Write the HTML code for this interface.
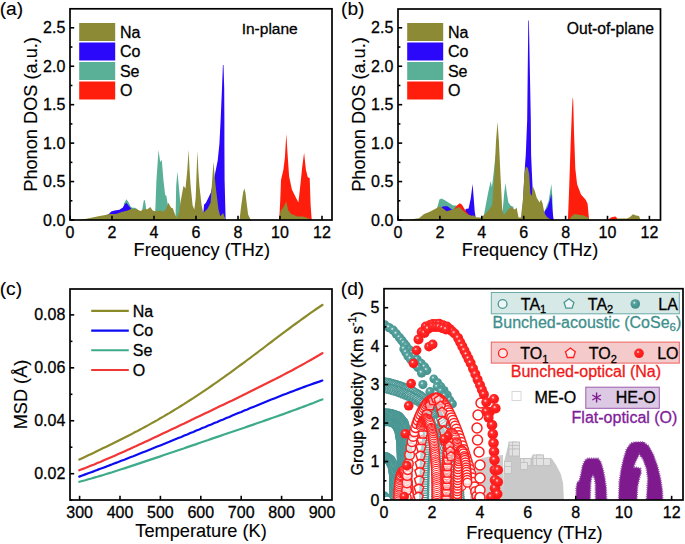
<!DOCTYPE html>
<html><head><meta charset="utf-8"><style>html,body{margin:0;padding:0;background:#fff;}svg{display:block;}text{font-family:"Liberation Sans",sans-serif;paint-order:stroke;stroke:currentColor;stroke-width:0.3px;}text[font-size="18.2"],text[font-size="19.2"]{stroke-width:0.12px;}</style></head>
<body><svg width="685" height="544" viewBox="0 0 685 544" font-family="Liberation Sans, sans-serif">
<rect width="685" height="544" fill="#fff"/>
<polygon points="122.0,220.0 124.0,203.4 126.4,199.3 128.1,201.6 130.5,206.3 132.2,207.7 135.1,207.7 137.5,209.2 139.0,220.0" fill="#59b096" />
<polygon points="141.5,220.0 142.2,209.8 143.9,199.9 145.0,200.4 146.2,209.2 147.0,220.0" fill="#59b096" />
<polygon points="154.8,220.0 155.5,205.0 156.4,180.8 158.5,150.0 160.2,162.1 161.8,160.1 163.5,180.8 165.2,195.1 166.4,196.0 167.8,204.4 169.0,220.0" fill="#59b096" />
<polygon points="175.5,220.0 176.2,185.8 177.4,171.5 179.1,189.2 180.5,204.4 181.5,220.0" fill="#59b096" />
<polygon points="104.0,220.0 105.0,216.0 108.9,214.1 111.2,211.5 114.7,210.6 119.4,209.8 122.9,207.4 124.6,204.5 126.4,202.8 128.7,205.7 131.1,208.6 133.0,212.0 135.0,220.0" fill="#2b08fa" />
<polygon points="202.0,220.0 203.3,212.9 204.1,204.4 205.8,203.1 208.4,197.7 210.9,192.6 214.3,177.4 217.7,160.5 219.4,144.0 220.6,121.0 222.0,88.0 222.9,65.0 223.5,65.0 224.2,88.0 224.4,121.0 224.4,144.0 224.6,180.0 225.6,219.0 226.0,220.0" fill="#2b08fa" />
<polygon points="279.0,220.0 279.3,218.4 280.3,198.8 281.0,180.0 283.4,169.7 284.9,157.5 286.3,134.1 287.8,157.5 289.1,176.3 291.9,189.4 295.6,196.9 298.4,202.5 300.3,185.6 302.2,166.9 304.1,152.8 305.9,169.7 307.8,177.2 309.7,178.1 310.6,204.4 311.6,218.4 312.0,220.0" fill="#ff1e0c" />
<polygon points="80.0,220.0 82.0,219.5 87.8,218.5 92.5,217.4 98.4,216.2 105.4,215.0 110.0,213.9 115.9,213.9 121.7,212.1 127.6,210.4 132.2,208.6 136.9,209.2 140.4,211.0 143.9,209.2 147.4,209.2 150.3,207.1 152.7,210.4 155.1,211.2 160.2,210.4 163.5,211.6 166.1,208.7 168.3,202.8 171.2,207.8 172.8,208.2 175.0,214.6 176.6,218.0 178.8,212.9 181.3,197.7 183.5,185.8 185.5,188.4 187.3,170.0 188.6,150.0 189.6,170.0 190.6,185.8 192.6,205.3 194.3,209.5 195.7,197.7 196.5,175.0 197.4,150.6 198.4,172.0 199.4,185.8 201.6,205.3 203.3,212.9 207.5,208.7 210.6,202.8 212.2,180.0 213.5,161.8 214.8,178.0 216.0,189.2 218.5,209.5 220.2,216.3 223.1,212.9 225.3,219.0 226.0,220.0" fill="#8c8a34" />
<polygon points="239.5,220.0 241.4,204.4 243.2,192.0 244.4,188.4 245.5,193.0 246.4,201.0 248.1,214.6 249.8,218.0 251.0,220.0" fill="#8c8a34" />
<polygon points="279.3,220.0 280.6,211.0 283.4,207.2 286.3,201.6 288.1,210.0 290.9,213.8 297.5,216.6 303.1,216.6 308.8,218.4 311.0,220.0" fill="#8c8a34" />
<rect x="70.00" y="8.80" width="262.00" height="211.20" fill="none" stroke="#000" stroke-width="1.7"/>
<line x1="70.00" y1="220.00" x2="70.00" y2="215.80" stroke="#000" stroke-width="1.6"/>
<text x="70.00" y="237.90" font-size="16" text-anchor="middle" fill="#000" color="#000" >0</text>
<line x1="112.00" y1="220.00" x2="112.00" y2="215.80" stroke="#000" stroke-width="1.6"/>
<text x="112.00" y="237.90" font-size="16" text-anchor="middle" fill="#000" color="#000" >2</text>
<line x1="154.00" y1="220.00" x2="154.00" y2="215.80" stroke="#000" stroke-width="1.6"/>
<text x="154.00" y="237.90" font-size="16" text-anchor="middle" fill="#000" color="#000" >4</text>
<line x1="196.00" y1="220.00" x2="196.00" y2="215.80" stroke="#000" stroke-width="1.6"/>
<text x="196.00" y="237.90" font-size="16" text-anchor="middle" fill="#000" color="#000" >6</text>
<line x1="238.00" y1="220.00" x2="238.00" y2="215.80" stroke="#000" stroke-width="1.6"/>
<text x="238.00" y="237.90" font-size="16" text-anchor="middle" fill="#000" color="#000" >8</text>
<line x1="280.00" y1="220.00" x2="280.00" y2="215.80" stroke="#000" stroke-width="1.6"/>
<text x="280.00" y="237.90" font-size="16" text-anchor="middle" fill="#000" color="#000" >10</text>
<line x1="322.00" y1="220.00" x2="322.00" y2="215.80" stroke="#000" stroke-width="1.6"/>
<text x="322.00" y="237.90" font-size="16" text-anchor="middle" fill="#000" color="#000" >12</text>
<line x1="70.00" y1="220.00" x2="74.20" y2="220.00" stroke="#000" stroke-width="1.6"/>
<text x="65.30" y="225.50" font-size="16" text-anchor="end" fill="#000" color="#000" >0.0</text>
<line x1="70.00" y1="200.78" x2="72.40" y2="200.78" stroke="#000" stroke-width="1.6"/>
<line x1="70.00" y1="181.56" x2="74.20" y2="181.56" stroke="#000" stroke-width="1.6"/>
<text x="65.30" y="187.06" font-size="16" text-anchor="end" fill="#000" color="#000" >0.5</text>
<line x1="70.00" y1="162.34" x2="72.40" y2="162.34" stroke="#000" stroke-width="1.6"/>
<line x1="70.00" y1="143.12" x2="74.20" y2="143.12" stroke="#000" stroke-width="1.6"/>
<text x="65.30" y="148.62" font-size="16" text-anchor="end" fill="#000" color="#000" >1.0</text>
<line x1="70.00" y1="123.90" x2="72.40" y2="123.90" stroke="#000" stroke-width="1.6"/>
<line x1="70.00" y1="104.68" x2="74.20" y2="104.68" stroke="#000" stroke-width="1.6"/>
<text x="65.30" y="110.18" font-size="16" text-anchor="end" fill="#000" color="#000" >1.5</text>
<line x1="70.00" y1="85.46" x2="72.40" y2="85.46" stroke="#000" stroke-width="1.6"/>
<line x1="70.00" y1="66.24" x2="74.20" y2="66.24" stroke="#000" stroke-width="1.6"/>
<text x="65.30" y="71.74" font-size="16" text-anchor="end" fill="#000" color="#000" >2.0</text>
<line x1="70.00" y1="47.02" x2="72.40" y2="47.02" stroke="#000" stroke-width="1.6"/>
<line x1="70.00" y1="27.80" x2="74.20" y2="27.80" stroke="#000" stroke-width="1.6"/>
<text x="65.30" y="33.30" font-size="16" text-anchor="end" fill="#000" color="#000" >2.5</text>
<text x="201.80" y="255.80" font-size="18.2" text-anchor="middle" fill="#000" color="#000" >Frequency (THz)</text>
<text transform="translate(37.30,114.40) rotate(-90)" font-size="18.2" text-anchor="middle" fill="#000">Phonon DOS (a.u.)</text>
<text x="-0.30" y="14.60" font-size="19.2" text-anchor="start" fill="#000" color="#000" >(a)</text>
<rect x="79.2" y="23.0" width="36" height="18" fill="#8c8a34"/>
<text x="119.90" y="37.60" font-size="16" text-anchor="start" fill="#000" color="#000" >Na</text>
<rect x="79.2" y="42.5" width="36" height="18" fill="#2b08fa"/>
<text x="119.90" y="57.10" font-size="16" text-anchor="start" fill="#000" color="#000" >Co</text>
<rect x="79.2" y="62.0" width="36" height="18" fill="#59b096"/>
<text x="119.90" y="76.60" font-size="16" text-anchor="start" fill="#000" color="#000" >Se</text>
<rect x="79.2" y="81.5" width="36" height="18" fill="#ff1e0c"/>
<text x="119.90" y="96.10" font-size="16" text-anchor="start" fill="#000" color="#000" >O</text>
<text x="241.70" y="33.90" font-size="15.5" text-anchor="start" fill="#000" color="#000" >In-plane</text>
<polygon points="435.0,220.0 437.2,207.7 439.4,199.6 441.6,198.5 445.3,200.4 449.6,203.3 453.3,205.5 456.2,205.5 458.0,208.0 460.0,220.0" fill="#59b096" />
<polygon points="483.0,220.0 485.1,208.8 488.2,192.3 490.7,181.0 491.9,187.2 494.0,169.7 495.0,160.0 496.5,150.0 497.0,220.0" fill="#59b096" />
<polygon points="502.0,220.0 503.0,206.7 504.3,192.3 505.5,183.0 506.7,192.3 508.4,202.6 510.9,205.7 513.3,206.7 515.0,220.0" fill="#59b096" />
<polygon points="543.0,220.0 544.5,211.5 548.5,201.6 551.4,183.9 552.4,197.7 553.0,220.0" fill="#59b096" />
<polygon points="440.0,220.0 441.6,206.9 443.8,206.2 447.4,206.2 450.4,208.4 452.6,209.9 454.7,209.1 457.0,220.0" fill="#2b08fa" />
<polygon points="463.0,220.0 465.7,209.1 468.6,208.4 470.8,198.2 472.6,183.9 473.7,198.2 474.7,211.3 475.6,217.2 476.0,220.0" fill="#2b08fa" />
<polygon points="522.0,220.0 524.8,168.1 525.8,154.4 527.2,119.5 528.3,20.5 528.9,20.5 530.8,119.5 531.1,154.4 532.3,182.0 532.7,189.8 534.0,220.0" fill="#2b08fa" />
<polygon points="544.0,220.0 544.5,211.5 547.5,207.5 550.0,199.6 551.4,193.7 552.4,209.5 553.4,218.3 554.0,220.0" fill="#2b08fa" />
<polygon points="453.0,220.0 454.0,209.1 456.9,205.5 459.9,203.3 462.0,204.7 464.2,208.4 466.4,212.0 468.6,214.2 470.8,215.7 472.0,220.0" fill="#ff1e0c" />
<polygon points="567.5,220.0 568.0,218.0 569.3,184.2 570.6,145.1 571.9,111.3 572.7,96.9 573.2,100.0 574.0,132.1 575.3,168.5 577.1,184.2 581.0,194.6 585.7,199.8 587.6,203.7 588.9,218.0 589.2,220.0" fill="#ff1e0c" />
<polygon points="608.5,220.0 610.0,218.0 612.5,217.0 615.5,216.6 617.0,218.0 617.5,220.0" fill="#ff1e0c" />
<polygon points="409.0,220.0 411.7,219.3 419.0,218.3 424.1,213.9 429.2,212.0 435.0,209.1 440.1,206.2 443.8,209.1 446.7,211.3 451.1,210.1 455.5,208.4 459.1,206.9 462.8,210.6 467.2,214.2 471.5,215.7 473.7,215.4 475.9,217.2 481.0,217.4 484.1,214.9 488.2,210.8 492.3,204.7 494.4,175.8 496.0,140.9 497.5,121.9 498.9,140.9 500.6,177.9 502.2,208.8 503.7,214.9 505.7,212.9 507.8,209.8 510.9,207.1 512.9,208.4 515.0,209.5 516.6,207.5 518.5,217.4 520.9,217.4 522.9,199.6 524.4,174.0 525.8,166.6 527.8,168.1 529.2,174.0 530.4,193.7 531.7,195.7 532.7,185.9 534.7,190.8 536.7,197.7 539.6,202.6 541.0,199.6 542.6,203.6 544.5,213.4 547.5,217.4 550.0,219.0 552.0,220.0" fill="#8c8a34" />
<polygon points="569.0,220.0 571.1,216.7 574.5,214.1 583.6,215.4 588.3,217.5 589.0,220.0" fill="#8c8a34" />
<polygon points="615.0,220.0 617.0,218.6 627.0,218.6 630.0,217.0 633.0,214.2 636.0,215.5 639.0,216.0 640.5,220.0" fill="#8c8a34" />
<rect x="398.00" y="9.00" width="262.50" height="211.00" fill="none" stroke="#000" stroke-width="1.7"/>
<line x1="398.00" y1="220.00" x2="398.00" y2="215.80" stroke="#000" stroke-width="1.6"/>
<text x="398.00" y="237.90" font-size="16" text-anchor="middle" fill="#000" color="#000" >0</text>
<line x1="439.90" y1="220.00" x2="439.90" y2="215.80" stroke="#000" stroke-width="1.6"/>
<text x="439.90" y="237.90" font-size="16" text-anchor="middle" fill="#000" color="#000" >2</text>
<line x1="481.80" y1="220.00" x2="481.80" y2="215.80" stroke="#000" stroke-width="1.6"/>
<text x="481.80" y="237.90" font-size="16" text-anchor="middle" fill="#000" color="#000" >4</text>
<line x1="523.70" y1="220.00" x2="523.70" y2="215.80" stroke="#000" stroke-width="1.6"/>
<text x="523.70" y="237.90" font-size="16" text-anchor="middle" fill="#000" color="#000" >6</text>
<line x1="565.60" y1="220.00" x2="565.60" y2="215.80" stroke="#000" stroke-width="1.6"/>
<text x="565.60" y="237.90" font-size="16" text-anchor="middle" fill="#000" color="#000" >8</text>
<line x1="607.50" y1="220.00" x2="607.50" y2="215.80" stroke="#000" stroke-width="1.6"/>
<text x="607.50" y="237.90" font-size="16" text-anchor="middle" fill="#000" color="#000" >10</text>
<line x1="649.40" y1="220.00" x2="649.40" y2="215.80" stroke="#000" stroke-width="1.6"/>
<text x="649.40" y="237.90" font-size="16" text-anchor="middle" fill="#000" color="#000" >12</text>
<line x1="398.00" y1="220.00" x2="402.20" y2="220.00" stroke="#000" stroke-width="1.6"/>
<text x="393.30" y="225.50" font-size="16" text-anchor="end" fill="#000" color="#000" >0.0</text>
<line x1="398.00" y1="200.78" x2="400.40" y2="200.78" stroke="#000" stroke-width="1.6"/>
<line x1="398.00" y1="181.56" x2="402.20" y2="181.56" stroke="#000" stroke-width="1.6"/>
<text x="393.30" y="187.06" font-size="16" text-anchor="end" fill="#000" color="#000" >0.5</text>
<line x1="398.00" y1="162.34" x2="400.40" y2="162.34" stroke="#000" stroke-width="1.6"/>
<line x1="398.00" y1="143.12" x2="402.20" y2="143.12" stroke="#000" stroke-width="1.6"/>
<text x="393.30" y="148.62" font-size="16" text-anchor="end" fill="#000" color="#000" >1.0</text>
<line x1="398.00" y1="123.90" x2="400.40" y2="123.90" stroke="#000" stroke-width="1.6"/>
<line x1="398.00" y1="104.68" x2="402.20" y2="104.68" stroke="#000" stroke-width="1.6"/>
<text x="393.30" y="110.18" font-size="16" text-anchor="end" fill="#000" color="#000" >1.5</text>
<line x1="398.00" y1="85.46" x2="400.40" y2="85.46" stroke="#000" stroke-width="1.6"/>
<line x1="398.00" y1="66.24" x2="402.20" y2="66.24" stroke="#000" stroke-width="1.6"/>
<text x="393.30" y="71.74" font-size="16" text-anchor="end" fill="#000" color="#000" >2.0</text>
<line x1="398.00" y1="47.02" x2="400.40" y2="47.02" stroke="#000" stroke-width="1.6"/>
<line x1="398.00" y1="27.80" x2="402.20" y2="27.80" stroke="#000" stroke-width="1.6"/>
<text x="393.30" y="33.30" font-size="16" text-anchor="end" fill="#000" color="#000" >2.5</text>
<text x="530.05" y="255.80" font-size="18.2" text-anchor="middle" fill="#000" color="#000" >Frequency (THz)</text>
<text transform="translate(365.30,114.50) rotate(-90)" font-size="18.2" text-anchor="middle" fill="#000">Phonon DOS (a.u.)</text>
<text x="341.00" y="14.60" font-size="19.2" text-anchor="start" fill="#000" color="#000" >(b)</text>
<rect x="407.2" y="23.0" width="36" height="18" fill="#8c8a34"/>
<text x="447.90" y="37.60" font-size="16" text-anchor="start" fill="#000" color="#000" >Na</text>
<rect x="407.2" y="42.5" width="36" height="18" fill="#2b08fa"/>
<text x="447.90" y="57.10" font-size="16" text-anchor="start" fill="#000" color="#000" >Co</text>
<rect x="407.2" y="62.0" width="36" height="18" fill="#59b096"/>
<text x="447.90" y="76.60" font-size="16" text-anchor="start" fill="#000" color="#000" >Se</text>
<rect x="407.2" y="81.5" width="36" height="18" fill="#ff1e0c"/>
<text x="447.90" y="96.10" font-size="16" text-anchor="start" fill="#000" color="#000" >O</text>
<text x="566.75" y="34.00" font-size="15.7" text-anchor="start" fill="#000" color="#000" >Out-of-plane</text>
<polyline points="79.3,459.6 82.3,458.2 85.3,456.8 88.3,455.3 91.3,453.9 94.3,452.5 97.3,451.0 100.3,449.6 103.3,448.1 106.3,446.7 109.3,445.2 112.3,443.8 115.3,442.3 118.3,440.8 121.3,439.3 124.3,437.8 127.3,436.2 130.3,434.7 133.3,433.1 136.3,431.6 139.3,430.0 142.3,428.4 145.3,426.7 148.3,425.1 151.3,423.4 154.3,421.8 157.3,420.1 160.3,418.3 163.3,416.6 166.3,414.8 169.3,413.1 172.3,411.3 175.3,409.4 178.3,407.6 181.3,405.7 184.3,403.9 187.3,401.9 190.3,400.0 193.3,398.1 196.3,396.1 199.3,394.1 202.3,392.1 205.3,390.1 208.3,388.1 211.3,386.0 214.3,383.9 217.3,381.8 220.3,379.7 223.3,377.6 226.3,375.4 229.3,373.3 232.3,371.1 235.3,368.9 238.3,366.7 241.3,364.5 244.3,362.3 247.3,360.0 250.3,357.8 253.3,355.5 256.3,353.3 259.3,351.0 262.3,348.8 265.3,346.5 268.3,344.2 271.3,342.0 274.3,339.7 277.3,337.4 280.3,335.2 283.3,332.9 286.3,330.7 289.3,328.5 292.3,326.2 295.3,324.0 298.3,321.8 301.3,319.6 304.3,317.5 307.3,315.3 310.3,313.2 313.3,311.1 316.3,309.0 319.3,307.0 322.3,305.0 322.4,304.9" fill="none" stroke="#8b8a2a" stroke-width="2.2" stroke-linejoin="round" stroke-linecap="round"/>
<polyline points="79.3,481.8 82.3,481.0 85.3,480.2 88.3,479.3 91.3,478.5 94.3,477.6 97.3,476.8 100.3,475.9 103.3,475.0 106.3,474.0 109.3,473.1 112.3,472.2 115.3,471.2 118.3,470.3 121.3,469.3 124.3,468.4 127.3,467.4 130.3,466.4 133.3,465.4 136.3,464.4 139.3,463.4 142.3,462.4 145.3,461.4 148.3,460.4 151.3,459.4 154.3,458.4 157.3,457.4 160.3,456.4 163.3,455.3 166.3,454.3 169.3,453.3 172.3,452.3 175.3,451.2 178.3,450.2 181.3,449.2 184.3,448.2 187.3,447.1 190.3,446.1 193.3,445.1 196.3,444.1 199.3,443.0 202.3,442.0 205.3,441.0 208.3,440.0 211.3,438.9 214.3,437.9 217.3,436.9 220.3,435.9 223.3,434.8 226.3,433.8 229.3,432.8 232.3,431.8 235.3,430.7 238.3,429.7 241.3,428.7 244.3,427.7 247.3,426.6 250.3,425.6 253.3,424.6 256.3,423.5 259.3,422.5 262.3,421.5 265.3,420.4 268.3,419.4 271.3,418.3 274.3,417.3 277.3,416.2 280.3,415.1 283.3,414.1 286.3,413.0 289.3,411.9 292.3,410.8 295.3,409.7 298.3,408.6 301.3,407.5 304.3,406.4 307.3,405.3 310.3,404.1 313.3,403.0 316.3,401.8 319.3,400.6 322.3,399.4 322.4,399.4" fill="none" stroke="#3dab8a" stroke-width="2.2" stroke-linejoin="round" stroke-linecap="round"/>
<polyline points="79.3,476.6 82.3,475.5 85.3,474.4 88.3,473.3 91.3,472.2 94.3,471.1 97.3,469.9 100.3,468.8 103.3,467.7 106.3,466.6 109.3,465.4 112.3,464.3 115.3,463.1 118.3,462.0 121.3,460.8 124.3,459.7 127.3,458.5 130.3,457.3 133.3,456.2 136.3,455.0 139.3,453.8 142.3,452.6 145.3,451.4 148.3,450.2 151.3,449.0 154.3,447.8 157.3,446.6 160.3,445.4 163.3,444.2 166.3,443.0 169.3,441.8 172.3,440.5 175.3,439.3 178.3,438.1 181.3,436.9 184.3,435.6 187.3,434.4 190.3,433.1 193.3,431.9 196.3,430.6 199.3,429.4 202.3,428.1 205.3,426.9 208.3,425.6 211.3,424.4 214.3,423.1 217.3,421.9 220.3,420.6 223.3,419.4 226.3,418.1 229.3,416.9 232.3,415.6 235.3,414.3 238.3,413.1 241.3,411.9 244.3,410.6 247.3,409.4 250.3,408.1 253.3,406.9 256.3,405.7 259.3,404.4 262.3,403.2 265.3,402.0 268.3,400.8 271.3,399.6 274.3,398.4 277.3,397.2 280.3,396.0 283.3,394.8 286.3,393.7 289.3,392.5 292.3,391.4 295.3,390.2 298.3,389.1 301.3,388.0 304.3,386.9 307.3,385.8 310.3,384.7 313.3,383.6 316.3,382.6 319.3,381.6 322.3,380.5 322.4,380.5" fill="none" stroke="#0c0cf2" stroke-width="2.2" stroke-linejoin="round" stroke-linecap="round"/>
<polyline points="79.3,470.3 82.3,469.1 85.3,468.0 88.3,466.8 91.3,465.6 94.3,464.4 97.3,463.1 100.3,461.9 103.3,460.6 106.3,459.3 109.3,458.0 112.3,456.7 115.3,455.4 118.3,454.1 121.3,452.8 124.3,451.4 127.3,450.1 130.3,448.7 133.3,447.3 136.3,446.0 139.3,444.6 142.3,443.2 145.3,441.8 148.3,440.4 151.3,439.0 154.3,437.6 157.3,436.2 160.3,434.8 163.3,433.3 166.3,431.9 169.3,430.5 172.3,429.1 175.3,427.7 178.3,426.2 181.3,424.8 184.3,423.4 187.3,421.9 190.3,420.5 193.3,419.1 196.3,417.6 199.3,416.2 202.3,414.8 205.3,413.3 208.3,411.9 211.3,410.5 214.3,409.0 217.3,407.6 220.3,406.1 223.3,404.7 226.3,403.2 229.3,401.8 232.3,400.4 235.3,398.9 238.3,397.4 241.3,396.0 244.3,394.5 247.3,393.1 250.3,391.6 253.3,390.1 256.3,388.6 259.3,387.1 262.3,385.6 265.3,384.1 268.3,382.6 271.3,381.1 274.3,379.6 277.3,378.0 280.3,376.5 283.3,374.9 286.3,373.3 289.3,371.8 292.3,370.2 295.3,368.5 298.3,366.9 301.3,365.3 304.3,363.6 307.3,361.9 310.3,360.2 313.3,358.5 316.3,356.7 319.3,355.0 322.3,353.2 322.4,353.1" fill="none" stroke="#f23535" stroke-width="2.2" stroke-linejoin="round" stroke-linecap="round"/>
<rect x="70.00" y="289.00" width="262.00" height="211.00" fill="none" stroke="#000" stroke-width="1.7"/>
<line x1="79.60" y1="500.00" x2="79.60" y2="495.80" stroke="#000" stroke-width="1.6"/>
<text x="79.60" y="517.90" font-size="16" text-anchor="middle" fill="#000" color="#000" >300</text>
<line x1="120.00" y1="500.00" x2="120.00" y2="495.80" stroke="#000" stroke-width="1.6"/>
<text x="120.00" y="517.90" font-size="16" text-anchor="middle" fill="#000" color="#000" >400</text>
<line x1="160.40" y1="500.00" x2="160.40" y2="495.80" stroke="#000" stroke-width="1.6"/>
<text x="160.40" y="517.90" font-size="16" text-anchor="middle" fill="#000" color="#000" >500</text>
<line x1="200.80" y1="500.00" x2="200.80" y2="495.80" stroke="#000" stroke-width="1.6"/>
<text x="200.80" y="517.90" font-size="16" text-anchor="middle" fill="#000" color="#000" >600</text>
<line x1="241.20" y1="500.00" x2="241.20" y2="495.80" stroke="#000" stroke-width="1.6"/>
<text x="241.20" y="517.90" font-size="16" text-anchor="middle" fill="#000" color="#000" >700</text>
<line x1="281.60" y1="500.00" x2="281.60" y2="495.80" stroke="#000" stroke-width="1.6"/>
<text x="281.60" y="517.90" font-size="16" text-anchor="middle" fill="#000" color="#000" >800</text>
<line x1="322.00" y1="500.00" x2="322.00" y2="495.80" stroke="#000" stroke-width="1.6"/>
<text x="322.00" y="517.90" font-size="16" text-anchor="middle" fill="#000" color="#000" >900</text>
<line x1="70.00" y1="500.17" x2="72.40" y2="500.17" stroke="#000" stroke-width="1.6"/>
<line x1="70.00" y1="473.70" x2="74.20" y2="473.70" stroke="#000" stroke-width="1.6"/>
<text x="65.30" y="479.20" font-size="16" text-anchor="end" fill="#000" color="#000" >0.02</text>
<line x1="70.00" y1="447.23" x2="72.40" y2="447.23" stroke="#000" stroke-width="1.6"/>
<line x1="70.00" y1="420.76" x2="74.20" y2="420.76" stroke="#000" stroke-width="1.6"/>
<text x="65.30" y="426.26" font-size="16" text-anchor="end" fill="#000" color="#000" >0.04</text>
<line x1="70.00" y1="394.29" x2="72.40" y2="394.29" stroke="#000" stroke-width="1.6"/>
<line x1="70.00" y1="367.82" x2="74.20" y2="367.82" stroke="#000" stroke-width="1.6"/>
<text x="65.30" y="373.32" font-size="16" text-anchor="end" fill="#000" color="#000" >0.06</text>
<line x1="70.00" y1="341.35" x2="72.40" y2="341.35" stroke="#000" stroke-width="1.6"/>
<line x1="70.00" y1="314.88" x2="74.20" y2="314.88" stroke="#000" stroke-width="1.6"/>
<text x="65.30" y="320.38" font-size="16" text-anchor="end" fill="#000" color="#000" >0.08</text>
<text x="201.00" y="536.50" font-size="18.2" text-anchor="middle" fill="#000" color="#000" >Temperature (K)</text>
<text transform="translate(26.7,394.50) rotate(-90)" font-size="18.2" text-anchor="middle" fill="#000">MSD (Å)</text>
<text x="-0.30" y="294.70" font-size="19.2" text-anchor="start" fill="#000" color="#000" >(c)</text>
<line x1="91.20" y1="310.90" x2="128.80" y2="310.90" stroke="#8b8a2a" stroke-width="2.1"/>
<text x="132.80" y="316.50" font-size="16" text-anchor="start" fill="#000" color="#000" >Na</text>
<line x1="91.20" y1="330.60" x2="128.80" y2="330.60" stroke="#0c0cf2" stroke-width="2.1"/>
<text x="132.80" y="336.20" font-size="16" text-anchor="start" fill="#000" color="#000" >Co</text>
<line x1="91.20" y1="350.30" x2="128.80" y2="350.30" stroke="#3dab8a" stroke-width="2.1"/>
<text x="132.80" y="355.90" font-size="16" text-anchor="start" fill="#000" color="#000" >Se</text>
<line x1="91.20" y1="370.00" x2="128.80" y2="370.00" stroke="#f23535" stroke-width="2.1"/>
<text x="132.80" y="375.60" font-size="16" text-anchor="start" fill="#000" color="#000" >O</text>
<defs><radialGradient id="gt" cx="0.4" cy="0.36" r="0.62"><stop offset="0" stop-color="#f4fbfa"/><stop offset="0.25" stop-color="#5aa5a1"/><stop offset="0.6" stop-color="#4b9894"/><stop offset="1" stop-color="#46928e"/></radialGradient><radialGradient id="gr" cx="0.4" cy="0.36" r="0.62"><stop offset="0" stop-color="#fff0f0"/><stop offset="0.25" stop-color="#ff3030"/><stop offset="0.6" stop-color="#ff1e1e"/><stop offset="1" stop-color="#fa1818"/></radialGradient><clipPath id="cd"><rect x="384" y="288.7" width="299" height="211.3"/></clipPath></defs>
<g clip-path="url(#cd)">
<circle cx="380.0" cy="382.5" r="5.0" fill="#fff" stroke="#4a9794" stroke-width="1.6"/>
<circle cx="382.0" cy="382.8" r="5.0" fill="#fff" stroke="#4a9794" stroke-width="1.6"/>
<circle cx="384.0" cy="383.0" r="5.0" fill="#fff" stroke="#4a9794" stroke-width="1.6"/>
<circle cx="386.0" cy="383.2" r="5.0" fill="#fff" stroke="#4a9794" stroke-width="1.6"/>
<circle cx="388.0" cy="383.5" r="5.0" fill="#fff" stroke="#4a9794" stroke-width="1.6"/>
<circle cx="389.8" cy="384.0" r="5.0" fill="#fff" stroke="#4a9794" stroke-width="1.6"/>
<circle cx="391.5" cy="384.5" r="5.0" fill="#fff" stroke="#4a9794" stroke-width="1.6"/>
<circle cx="393.3" cy="385.0" r="5.0" fill="#fff" stroke="#4a9794" stroke-width="1.6"/>
<circle cx="395.1" cy="385.5" r="5.0" fill="#fff" stroke="#4a9794" stroke-width="1.6"/>
<circle cx="396.8" cy="386.0" r="5.0" fill="#fff" stroke="#4a9794" stroke-width="1.6"/>
<circle cx="398.6" cy="386.5" r="5.0" fill="#fff" stroke="#4a9794" stroke-width="1.6"/>
<circle cx="400.2" cy="387.1" r="5.0" fill="#fff" stroke="#4a9794" stroke-width="1.6"/>
<circle cx="401.9" cy="387.8" r="5.0" fill="#fff" stroke="#4a9794" stroke-width="1.6"/>
<circle cx="403.5" cy="388.4" r="5.0" fill="#fff" stroke="#4a9794" stroke-width="1.6"/>
<circle cx="405.1" cy="389.1" r="5.0" fill="#fff" stroke="#4a9794" stroke-width="1.6"/>
<circle cx="406.7" cy="389.7" r="5.0" fill="#fff" stroke="#4a9794" stroke-width="1.6"/>
<circle cx="408.4" cy="390.4" r="5.0" fill="#fff" stroke="#4a9794" stroke-width="1.6"/>
<circle cx="410.0" cy="391.0" r="5.0" fill="#fff" stroke="#4a9794" stroke-width="1.6"/>
<circle cx="411.7" cy="391.9" r="5.0" fill="#fff" stroke="#4a9794" stroke-width="1.6"/>
<circle cx="413.3" cy="392.8" r="5.0" fill="#fff" stroke="#4a9794" stroke-width="1.6"/>
<circle cx="415.0" cy="393.8" r="5.0" fill="#fff" stroke="#4a9794" stroke-width="1.6"/>
<circle cx="416.7" cy="394.7" r="5.0" fill="#fff" stroke="#4a9794" stroke-width="1.6"/>
<circle cx="418.3" cy="395.6" r="5.0" fill="#fff" stroke="#4a9794" stroke-width="1.6"/>
<circle cx="420.0" cy="396.5" r="5.0" fill="#fff" stroke="#4a9794" stroke-width="1.6"/>
<circle cx="421.3" cy="397.6" r="5.0" fill="#fff" stroke="#4a9794" stroke-width="1.6"/>
<circle cx="422.7" cy="398.7" r="5.0" fill="#fff" stroke="#4a9794" stroke-width="1.6"/>
<circle cx="424.0" cy="399.8" r="5.0" fill="#fff" stroke="#4a9794" stroke-width="1.6"/>
<circle cx="425.3" cy="400.8" r="5.0" fill="#fff" stroke="#4a9794" stroke-width="1.6"/>
<circle cx="426.7" cy="401.9" r="5.0" fill="#fff" stroke="#4a9794" stroke-width="1.6"/>
<circle cx="428.0" cy="403.0" r="5.0" fill="#fff" stroke="#4a9794" stroke-width="1.6"/>
<circle cx="429.2" cy="404.3" r="5.0" fill="#fff" stroke="#4a9794" stroke-width="1.6"/>
<circle cx="430.3" cy="405.7" r="5.0" fill="#fff" stroke="#4a9794" stroke-width="1.6"/>
<circle cx="431.5" cy="407.0" r="5.0" fill="#fff" stroke="#4a9794" stroke-width="1.6"/>
<circle cx="432.7" cy="408.3" r="5.0" fill="#fff" stroke="#4a9794" stroke-width="1.6"/>
<circle cx="433.8" cy="409.7" r="5.0" fill="#fff" stroke="#4a9794" stroke-width="1.6"/>
<circle cx="435.0" cy="411.0" r="5.0" fill="#fff" stroke="#4a9794" stroke-width="1.6"/>
<circle cx="435.7" cy="412.6" r="5.0" fill="#fff" stroke="#4a9794" stroke-width="1.6"/>
<circle cx="436.4" cy="414.1" r="5.0" fill="#fff" stroke="#4a9794" stroke-width="1.6"/>
<circle cx="437.1" cy="415.7" r="5.0" fill="#fff" stroke="#4a9794" stroke-width="1.6"/>
<circle cx="437.9" cy="417.3" r="5.0" fill="#fff" stroke="#4a9794" stroke-width="1.6"/>
<circle cx="438.6" cy="418.9" r="5.0" fill="#fff" stroke="#4a9794" stroke-width="1.6"/>
<circle cx="439.3" cy="420.4" r="5.0" fill="#fff" stroke="#4a9794" stroke-width="1.6"/>
<circle cx="440.0" cy="422.0" r="5.0" fill="#fff" stroke="#4a9794" stroke-width="1.6"/>
<circle cx="440.4" cy="423.7" r="5.0" fill="#fff" stroke="#4a9794" stroke-width="1.6"/>
<circle cx="440.9" cy="425.3" r="5.0" fill="#fff" stroke="#4a9794" stroke-width="1.6"/>
<circle cx="441.3" cy="427.0" r="5.0" fill="#fff" stroke="#4a9794" stroke-width="1.6"/>
<circle cx="441.8" cy="428.7" r="5.0" fill="#fff" stroke="#4a9794" stroke-width="1.6"/>
<circle cx="442.2" cy="430.3" r="5.0" fill="#fff" stroke="#4a9794" stroke-width="1.6"/>
<circle cx="442.7" cy="432.0" r="5.0" fill="#fff" stroke="#4a9794" stroke-width="1.6"/>
<circle cx="443.1" cy="433.7" r="5.0" fill="#fff" stroke="#4a9794" stroke-width="1.6"/>
<circle cx="443.6" cy="435.3" r="5.0" fill="#fff" stroke="#4a9794" stroke-width="1.6"/>
<circle cx="444.0" cy="437.0" r="5.0" fill="#fff" stroke="#4a9794" stroke-width="1.6"/>
<circle cx="444.3" cy="438.8" r="5.0" fill="#fff" stroke="#4a9794" stroke-width="1.6"/>
<circle cx="444.5" cy="440.6" r="5.0" fill="#fff" stroke="#4a9794" stroke-width="1.6"/>
<circle cx="444.8" cy="442.5" r="5.0" fill="#fff" stroke="#4a9794" stroke-width="1.6"/>
<circle cx="445.1" cy="444.3" r="5.0" fill="#fff" stroke="#4a9794" stroke-width="1.6"/>
<circle cx="445.4" cy="446.1" r="5.0" fill="#fff" stroke="#4a9794" stroke-width="1.6"/>
<circle cx="445.6" cy="447.9" r="5.0" fill="#fff" stroke="#4a9794" stroke-width="1.6"/>
<circle cx="445.9" cy="449.7" r="5.0" fill="#fff" stroke="#4a9794" stroke-width="1.6"/>
<circle cx="446.2" cy="451.5" r="5.0" fill="#fff" stroke="#4a9794" stroke-width="1.6"/>
<circle cx="446.5" cy="453.4" r="5.0" fill="#fff" stroke="#4a9794" stroke-width="1.6"/>
<circle cx="446.7" cy="455.2" r="5.0" fill="#fff" stroke="#4a9794" stroke-width="1.6"/>
<circle cx="447.0" cy="457.0" r="5.0" fill="#fff" stroke="#4a9794" stroke-width="1.6"/>
<circle cx="447.0" cy="458.7" r="5.0" fill="#fff" stroke="#4a9794" stroke-width="1.6"/>
<circle cx="447.1" cy="460.4" r="5.0" fill="#fff" stroke="#4a9794" stroke-width="1.6"/>
<circle cx="447.1" cy="462.1" r="5.0" fill="#fff" stroke="#4a9794" stroke-width="1.6"/>
<circle cx="447.1" cy="463.9" r="5.0" fill="#fff" stroke="#4a9794" stroke-width="1.6"/>
<circle cx="447.2" cy="465.6" r="5.0" fill="#fff" stroke="#4a9794" stroke-width="1.6"/>
<circle cx="447.2" cy="467.3" r="5.0" fill="#fff" stroke="#4a9794" stroke-width="1.6"/>
<circle cx="447.2" cy="469.0" r="5.0" fill="#fff" stroke="#4a9794" stroke-width="1.6"/>
<circle cx="447.3" cy="470.7" r="5.0" fill="#fff" stroke="#4a9794" stroke-width="1.6"/>
<circle cx="447.3" cy="472.4" r="5.0" fill="#fff" stroke="#4a9794" stroke-width="1.6"/>
<circle cx="447.4" cy="474.1" r="5.0" fill="#fff" stroke="#4a9794" stroke-width="1.6"/>
<circle cx="447.4" cy="475.9" r="5.0" fill="#fff" stroke="#4a9794" stroke-width="1.6"/>
<circle cx="447.4" cy="477.6" r="5.0" fill="#fff" stroke="#4a9794" stroke-width="1.6"/>
<circle cx="447.5" cy="479.3" r="5.0" fill="#fff" stroke="#4a9794" stroke-width="1.6"/>
<circle cx="447.5" cy="481.0" r="5.0" fill="#fff" stroke="#4a9794" stroke-width="1.6"/>
<circle cx="447.5" cy="482.7" r="5.0" fill="#fff" stroke="#4a9794" stroke-width="1.6"/>
<circle cx="447.6" cy="484.4" r="5.0" fill="#fff" stroke="#4a9794" stroke-width="1.6"/>
<circle cx="447.6" cy="486.1" r="5.0" fill="#fff" stroke="#4a9794" stroke-width="1.6"/>
<circle cx="447.6" cy="487.9" r="5.0" fill="#fff" stroke="#4a9794" stroke-width="1.6"/>
<circle cx="447.7" cy="489.6" r="5.0" fill="#fff" stroke="#4a9794" stroke-width="1.6"/>
<circle cx="447.7" cy="491.3" r="5.0" fill="#fff" stroke="#4a9794" stroke-width="1.6"/>
<circle cx="447.8" cy="493.0" r="5.0" fill="#fff" stroke="#4a9794" stroke-width="1.6"/>
<circle cx="447.8" cy="494.7" r="5.0" fill="#fff" stroke="#4a9794" stroke-width="1.6"/>
<circle cx="447.8" cy="496.4" r="5.0" fill="#fff" stroke="#4a9794" stroke-width="1.6"/>
<circle cx="447.9" cy="498.1" r="5.0" fill="#fff" stroke="#4a9794" stroke-width="1.6"/>
<circle cx="447.9" cy="499.9" r="5.0" fill="#fff" stroke="#4a9794" stroke-width="1.6"/>
<circle cx="447.9" cy="501.6" r="5.0" fill="#fff" stroke="#4a9794" stroke-width="1.6"/>
<circle cx="448.0" cy="503.3" r="5.0" fill="#fff" stroke="#4a9794" stroke-width="1.6"/>
<circle cx="448.0" cy="505.0" r="5.0" fill="#fff" stroke="#4a9794" stroke-width="1.6"/>
<polygon points="380.0,382.5 384.8,386.0 382.9,391.5 377.1,391.5 375.2,386.0" fill="#fff" stroke="#4a9794" stroke-width="1.5"/>
<polygon points="382.0,382.8 386.8,386.2 384.9,391.8 379.1,391.8 377.2,386.2" fill="#fff" stroke="#4a9794" stroke-width="1.5"/>
<polygon points="384.0,383.0 388.8,386.5 386.9,392.0 381.1,392.0 379.2,386.5" fill="#fff" stroke="#4a9794" stroke-width="1.5"/>
<polygon points="386.0,383.2 390.8,386.7 388.9,392.3 383.1,392.3 381.2,386.7" fill="#fff" stroke="#4a9794" stroke-width="1.5"/>
<polygon points="388.0,383.5 392.8,387.0 390.9,392.5 385.1,392.5 383.2,387.0" fill="#fff" stroke="#4a9794" stroke-width="1.5"/>
<polygon points="389.8,384.0 394.5,387.5 392.7,393.0 386.8,393.0 385.0,387.5" fill="#fff" stroke="#4a9794" stroke-width="1.5"/>
<polygon points="391.5,384.5 396.3,388.0 394.5,393.5 388.6,393.5 386.8,388.0" fill="#fff" stroke="#4a9794" stroke-width="1.5"/>
<polygon points="393.3,385.0 398.1,388.5 396.2,394.0 390.4,394.0 388.5,388.5" fill="#fff" stroke="#4a9794" stroke-width="1.5"/>
<polygon points="395.1,385.5 399.8,389.0 398.0,394.5 392.1,394.5 390.3,389.0" fill="#fff" stroke="#4a9794" stroke-width="1.5"/>
<polygon points="396.8,386.0 401.6,389.5 399.8,395.0 393.9,395.0 392.1,389.5" fill="#fff" stroke="#4a9794" stroke-width="1.5"/>
<polygon points="398.6,386.5 403.4,390.0 401.5,395.5 395.7,395.5 393.8,390.0" fill="#fff" stroke="#4a9794" stroke-width="1.5"/>
<polygon points="400.2,387.1 405.0,390.6 403.2,396.2 397.3,396.2 395.5,390.6" fill="#fff" stroke="#4a9794" stroke-width="1.5"/>
<polygon points="401.9,387.8 406.6,391.2 404.8,396.8 398.9,396.8 397.1,391.2" fill="#fff" stroke="#4a9794" stroke-width="1.5"/>
<polygon points="403.5,388.4 408.2,391.9 406.4,397.5 400.5,397.5 398.7,391.9" fill="#fff" stroke="#4a9794" stroke-width="1.5"/>
<polygon points="405.1,389.1 409.9,392.5 408.1,398.1 402.2,398.1 400.4,392.5" fill="#fff" stroke="#4a9794" stroke-width="1.5"/>
<polygon points="406.7,389.7 411.5,393.2 409.7,398.8 403.8,398.8 402.0,393.2" fill="#fff" stroke="#4a9794" stroke-width="1.5"/>
<polygon points="408.4,390.4 413.1,393.8 411.3,399.4 405.4,399.4 403.6,393.8" fill="#fff" stroke="#4a9794" stroke-width="1.5"/>
<polygon points="410.0,391.0 414.8,394.5 412.9,400.0 407.1,400.0 405.2,394.5" fill="#fff" stroke="#4a9794" stroke-width="1.5"/>
<polygon points="411.7,391.9 416.4,395.4 414.6,401.0 408.7,401.0 406.9,395.4" fill="#fff" stroke="#4a9794" stroke-width="1.5"/>
<polygon points="413.3,392.8 418.1,396.3 416.3,401.9 410.4,401.9 408.6,396.3" fill="#fff" stroke="#4a9794" stroke-width="1.5"/>
<polygon points="415.0,393.8 419.8,397.2 417.9,402.8 412.1,402.8 410.2,397.2" fill="#fff" stroke="#4a9794" stroke-width="1.5"/>
<polygon points="416.7,394.7 421.4,398.1 419.6,403.7 413.7,403.7 411.9,398.1" fill="#fff" stroke="#4a9794" stroke-width="1.5"/>
<polygon points="418.3,395.6 423.1,399.0 421.3,404.6 415.4,404.6 413.6,399.0" fill="#fff" stroke="#4a9794" stroke-width="1.5"/>
<polygon points="420.0,396.5 424.8,400.0 422.9,405.5 417.1,405.5 415.2,400.0" fill="#fff" stroke="#4a9794" stroke-width="1.5"/>
<polygon points="421.3,397.6 426.1,401.0 424.3,406.6 418.4,406.6 416.6,401.0" fill="#fff" stroke="#4a9794" stroke-width="1.5"/>
<polygon points="422.7,398.7 427.4,402.1 425.6,407.7 419.7,407.7 417.9,402.1" fill="#fff" stroke="#4a9794" stroke-width="1.5"/>
<polygon points="424.0,399.8 428.8,403.2 426.9,408.8 421.1,408.8 419.2,403.2" fill="#fff" stroke="#4a9794" stroke-width="1.5"/>
<polygon points="425.3,400.8 430.1,404.3 428.3,409.9 422.4,409.9 420.6,404.3" fill="#fff" stroke="#4a9794" stroke-width="1.5"/>
<polygon points="426.7,401.9 431.4,405.4 429.6,411.0 423.7,411.0 421.9,405.4" fill="#fff" stroke="#4a9794" stroke-width="1.5"/>
<polygon points="428.0,403.0 432.8,406.5 430.9,412.0 425.1,412.0 423.2,406.5" fill="#fff" stroke="#4a9794" stroke-width="1.5"/>
<polygon points="429.2,404.3 433.9,407.8 432.1,413.4 426.2,413.4 424.4,407.8" fill="#fff" stroke="#4a9794" stroke-width="1.5"/>
<polygon points="430.3,405.7 435.1,409.1 433.3,414.7 427.4,414.7 425.6,409.1" fill="#fff" stroke="#4a9794" stroke-width="1.5"/>
<polygon points="431.5,407.0 436.3,410.5 434.4,416.0 428.6,416.0 426.7,410.5" fill="#fff" stroke="#4a9794" stroke-width="1.5"/>
<polygon points="432.7,408.3 437.4,411.8 435.6,417.4 429.7,417.4 427.9,411.8" fill="#fff" stroke="#4a9794" stroke-width="1.5"/>
<polygon points="433.8,409.7 438.6,413.1 436.8,418.7 430.9,418.7 429.1,413.1" fill="#fff" stroke="#4a9794" stroke-width="1.5"/>
<polygon points="435.0,411.0 439.8,414.5 437.9,420.0 432.1,420.0 430.2,414.5" fill="#fff" stroke="#4a9794" stroke-width="1.5"/>
<polygon points="435.7,412.6 440.5,416.0 438.7,421.6 432.8,421.6 431.0,416.0" fill="#fff" stroke="#4a9794" stroke-width="1.5"/>
<polygon points="436.4,414.1 441.2,417.6 439.4,423.2 433.5,423.2 431.7,417.6" fill="#fff" stroke="#4a9794" stroke-width="1.5"/>
<polygon points="437.1,415.7 441.9,419.2 440.1,424.8 434.2,424.8 432.4,419.2" fill="#fff" stroke="#4a9794" stroke-width="1.5"/>
<polygon points="437.9,417.3 442.6,420.7 440.8,426.3 434.9,426.3 433.1,420.7" fill="#fff" stroke="#4a9794" stroke-width="1.5"/>
<polygon points="438.6,418.9 443.3,422.3 441.5,427.9 435.6,427.9 433.8,422.3" fill="#fff" stroke="#4a9794" stroke-width="1.5"/>
<polygon points="439.3,420.4 444.0,423.9 442.2,429.5 436.3,429.5 434.5,423.9" fill="#fff" stroke="#4a9794" stroke-width="1.5"/>
<polygon points="440.0,422.0 444.8,425.5 442.9,431.0 437.1,431.0 435.2,425.5" fill="#fff" stroke="#4a9794" stroke-width="1.5"/>
<polygon points="440.4,423.7 445.2,427.1 443.4,432.7 437.5,432.7 435.7,427.1" fill="#fff" stroke="#4a9794" stroke-width="1.5"/>
<polygon points="440.9,425.3 445.6,428.8 443.8,434.4 437.9,434.4 436.1,428.8" fill="#fff" stroke="#4a9794" stroke-width="1.5"/>
<polygon points="441.3,427.0 446.1,430.5 444.3,436.0 438.4,436.0 436.6,430.5" fill="#fff" stroke="#4a9794" stroke-width="1.5"/>
<polygon points="441.8,428.7 446.5,432.1 444.7,437.7 438.8,437.7 437.0,432.1" fill="#fff" stroke="#4a9794" stroke-width="1.5"/>
<polygon points="442.2,430.3 447.0,433.8 445.2,439.4 439.3,439.4 437.5,433.8" fill="#fff" stroke="#4a9794" stroke-width="1.5"/>
<polygon points="442.7,432.0 447.4,435.5 445.6,441.0 439.7,441.0 437.9,435.5" fill="#fff" stroke="#4a9794" stroke-width="1.5"/>
<polygon points="443.1,433.7 447.9,437.1 446.1,442.7 440.2,442.7 438.4,437.1" fill="#fff" stroke="#4a9794" stroke-width="1.5"/>
<polygon points="443.6,435.3 448.3,438.8 446.5,444.4 440.6,444.4 438.8,438.8" fill="#fff" stroke="#4a9794" stroke-width="1.5"/>
<polygon points="444.0,437.0 448.8,440.5 446.9,446.0 441.1,446.0 439.2,440.5" fill="#fff" stroke="#4a9794" stroke-width="1.5"/>
<polygon points="444.3,438.8 449.0,442.3 447.2,447.9 441.3,447.9 439.5,442.3" fill="#fff" stroke="#4a9794" stroke-width="1.5"/>
<polygon points="444.5,440.6 449.3,444.1 447.5,449.7 441.6,449.7 439.8,444.1" fill="#fff" stroke="#4a9794" stroke-width="1.5"/>
<polygon points="444.8,442.5 449.6,445.9 447.8,451.5 441.9,451.5 440.1,445.9" fill="#fff" stroke="#4a9794" stroke-width="1.5"/>
<polygon points="445.1,444.3 449.8,447.7 448.0,453.3 442.2,453.3 440.3,447.7" fill="#fff" stroke="#4a9794" stroke-width="1.5"/>
<polygon points="445.4,446.1 450.1,449.5 448.3,455.1 442.4,455.1 440.6,449.5" fill="#fff" stroke="#4a9794" stroke-width="1.5"/>
<polygon points="445.6,447.9 450.4,451.4 448.6,457.0 442.7,457.0 440.9,451.4" fill="#fff" stroke="#4a9794" stroke-width="1.5"/>
<polygon points="445.9,449.7 450.7,453.2 448.8,458.8 443.0,458.8 441.2,453.2" fill="#fff" stroke="#4a9794" stroke-width="1.5"/>
<polygon points="446.2,451.5 450.9,455.0 449.1,460.6 443.2,460.6 441.4,455.0" fill="#fff" stroke="#4a9794" stroke-width="1.5"/>
<polygon points="446.5,453.4 451.2,456.8 449.4,462.4 443.5,462.4 441.7,456.8" fill="#fff" stroke="#4a9794" stroke-width="1.5"/>
<polygon points="446.7,455.2 451.5,458.6 449.7,464.2 443.8,464.2 442.0,458.6" fill="#fff" stroke="#4a9794" stroke-width="1.5"/>
<polygon points="447.0,457.0 451.8,460.5 449.9,466.0 444.1,466.0 442.2,460.5" fill="#fff" stroke="#4a9794" stroke-width="1.5"/>
<polygon points="447.0,458.7 451.8,462.2 450.0,467.8 444.1,467.8 442.3,462.2" fill="#fff" stroke="#4a9794" stroke-width="1.5"/>
<polygon points="447.1,460.4 451.8,463.9 450.0,469.5 444.1,469.5 442.3,463.9" fill="#fff" stroke="#4a9794" stroke-width="1.5"/>
<polygon points="447.1,462.2 451.9,465.6 450.1,471.2 444.2,471.2 442.4,465.6" fill="#fff" stroke="#4a9794" stroke-width="1.5"/>
<polygon points="447.2,463.9 451.9,467.3 450.1,472.9 444.2,472.9 442.4,467.3" fill="#fff" stroke="#4a9794" stroke-width="1.5"/>
<polygon points="447.2,465.6 452.0,469.1 450.1,474.6 444.3,474.6 442.4,469.1" fill="#fff" stroke="#4a9794" stroke-width="1.5"/>
<polygon points="447.2,467.3 452.0,470.8 450.2,476.4 444.3,476.4 442.5,470.8" fill="#fff" stroke="#4a9794" stroke-width="1.5"/>
<polygon points="447.3,469.0 452.0,472.5 450.2,478.1 444.3,478.1 442.5,472.5" fill="#fff" stroke="#4a9794" stroke-width="1.5"/>
<polygon points="447.3,470.8 452.1,474.2 450.3,479.8 444.4,479.8 442.6,474.2" fill="#fff" stroke="#4a9794" stroke-width="1.5"/>
<polygon points="447.4,472.5 452.1,475.9 450.3,481.5 444.4,481.5 442.6,475.9" fill="#fff" stroke="#4a9794" stroke-width="1.5"/>
<polygon points="447.4,474.2 452.2,477.7 450.3,483.2 444.5,483.2 442.6,477.7" fill="#fff" stroke="#4a9794" stroke-width="1.5"/>
<polygon points="447.4,475.9 452.2,479.4 450.4,485.0 444.5,485.0 442.7,479.4" fill="#fff" stroke="#4a9794" stroke-width="1.5"/>
<polygon points="447.5,477.6 452.2,481.1 450.4,486.7 444.5,486.7 442.7,481.1" fill="#fff" stroke="#4a9794" stroke-width="1.5"/>
<polygon points="447.5,479.4 452.3,482.8 450.5,488.4 444.6,488.4 442.8,482.8" fill="#fff" stroke="#4a9794" stroke-width="1.5"/>
<polygon points="447.6,481.1 452.3,484.5 450.5,490.1 444.6,490.1 442.8,484.5" fill="#fff" stroke="#4a9794" stroke-width="1.5"/>
<polygon points="447.6,482.8 452.4,486.3 450.5,491.8 444.7,491.8 442.8,486.3" fill="#fff" stroke="#4a9794" stroke-width="1.5"/>
<polygon points="447.6,484.5 452.4,488.0 450.6,493.6 444.7,493.6 442.9,488.0" fill="#fff" stroke="#4a9794" stroke-width="1.5"/>
<polygon points="447.7,486.2 452.4,489.7 450.6,495.3 444.7,495.3 442.9,489.7" fill="#fff" stroke="#4a9794" stroke-width="1.5"/>
<polygon points="447.7,488.0 452.5,491.4 450.7,497.0 444.8,497.0 443.0,491.4" fill="#fff" stroke="#4a9794" stroke-width="1.5"/>
<polygon points="447.8,489.7 452.5,493.1 450.7,498.7 444.8,498.7 443.0,493.1" fill="#fff" stroke="#4a9794" stroke-width="1.5"/>
<polygon points="447.8,491.4 452.6,494.9 450.7,500.4 444.9,500.4 443.0,494.9" fill="#fff" stroke="#4a9794" stroke-width="1.5"/>
<polygon points="447.8,493.1 452.6,496.6 450.8,502.2 444.9,502.2 443.1,496.6" fill="#fff" stroke="#4a9794" stroke-width="1.5"/>
<polygon points="447.9,494.8 452.6,498.3 450.8,503.9 444.9,503.9 443.1,498.3" fill="#fff" stroke="#4a9794" stroke-width="1.5"/>
<polygon points="447.9,496.6 452.7,500.0 450.9,505.6 445.0,505.6 443.2,500.0" fill="#fff" stroke="#4a9794" stroke-width="1.5"/>
<polygon points="448.0,498.3 452.7,501.7 450.9,507.3 445.0,507.3 443.2,501.7" fill="#fff" stroke="#4a9794" stroke-width="1.5"/>
<polygon points="448.0,500.0 452.8,503.5 450.9,509.0 445.1,509.0 443.2,503.5" fill="#fff" stroke="#4a9794" stroke-width="1.5"/>
<circle cx="380.0" cy="420.0" r="5.0" fill="#fff" stroke="#4a9794" stroke-width="1.7"/>
<circle cx="381.1" cy="420.1" r="5.0" fill="#fff" stroke="#4a9794" stroke-width="1.7"/>
<circle cx="382.2" cy="420.1" r="5.0" fill="#fff" stroke="#4a9794" stroke-width="1.7"/>
<circle cx="383.3" cy="420.2" r="5.0" fill="#fff" stroke="#4a9794" stroke-width="1.7"/>
<circle cx="384.4" cy="420.2" r="5.0" fill="#fff" stroke="#4a9794" stroke-width="1.7"/>
<circle cx="385.6" cy="420.3" r="5.0" fill="#fff" stroke="#4a9794" stroke-width="1.7"/>
<circle cx="386.7" cy="420.3" r="5.0" fill="#fff" stroke="#4a9794" stroke-width="1.7"/>
<circle cx="387.8" cy="420.4" r="5.0" fill="#fff" stroke="#4a9794" stroke-width="1.7"/>
<circle cx="388.9" cy="420.4" r="5.0" fill="#fff" stroke="#4a9794" stroke-width="1.7"/>
<circle cx="390.0" cy="420.5" r="5.0" fill="#fff" stroke="#4a9794" stroke-width="1.7"/>
<circle cx="391.2" cy="421.0" r="5.0" fill="#fff" stroke="#4a9794" stroke-width="1.7"/>
<circle cx="392.4" cy="421.5" r="5.0" fill="#fff" stroke="#4a9794" stroke-width="1.7"/>
<circle cx="393.6" cy="422.0" r="5.0" fill="#fff" stroke="#4a9794" stroke-width="1.7"/>
<circle cx="394.8" cy="422.5" r="5.0" fill="#fff" stroke="#4a9794" stroke-width="1.7"/>
<circle cx="396.0" cy="423.0" r="5.0" fill="#fff" stroke="#4a9794" stroke-width="1.7"/>
<circle cx="396.6" cy="424.0" r="5.0" fill="#fff" stroke="#4a9794" stroke-width="1.7"/>
<circle cx="397.1" cy="425.0" r="5.0" fill="#fff" stroke="#4a9794" stroke-width="1.7"/>
<circle cx="397.7" cy="426.0" r="5.0" fill="#fff" stroke="#4a9794" stroke-width="1.7"/>
<circle cx="398.3" cy="427.0" r="5.0" fill="#fff" stroke="#4a9794" stroke-width="1.7"/>
<circle cx="398.9" cy="428.0" r="5.0" fill="#fff" stroke="#4a9794" stroke-width="1.7"/>
<circle cx="399.4" cy="429.0" r="5.0" fill="#fff" stroke="#4a9794" stroke-width="1.7"/>
<circle cx="400.0" cy="430.0" r="5.0" fill="#fff" stroke="#4a9794" stroke-width="1.7"/>
<circle cx="400.2" cy="431.1" r="5.0" fill="#fff" stroke="#4a9794" stroke-width="1.7"/>
<circle cx="400.4" cy="432.2" r="5.0" fill="#fff" stroke="#4a9794" stroke-width="1.7"/>
<circle cx="400.5" cy="433.3" r="5.0" fill="#fff" stroke="#4a9794" stroke-width="1.7"/>
<circle cx="400.7" cy="434.4" r="5.0" fill="#fff" stroke="#4a9794" stroke-width="1.7"/>
<circle cx="400.9" cy="435.5" r="5.0" fill="#fff" stroke="#4a9794" stroke-width="1.7"/>
<circle cx="401.1" cy="436.5" r="5.0" fill="#fff" stroke="#4a9794" stroke-width="1.7"/>
<circle cx="401.3" cy="437.6" r="5.0" fill="#fff" stroke="#4a9794" stroke-width="1.7"/>
<circle cx="401.5" cy="438.7" r="5.0" fill="#fff" stroke="#4a9794" stroke-width="1.7"/>
<circle cx="401.6" cy="439.8" r="5.0" fill="#fff" stroke="#4a9794" stroke-width="1.7"/>
<circle cx="401.8" cy="440.9" r="5.0" fill="#fff" stroke="#4a9794" stroke-width="1.7"/>
<circle cx="402.0" cy="442.0" r="5.0" fill="#fff" stroke="#4a9794" stroke-width="1.7"/>
<circle cx="402.0" cy="443.1" r="5.0" fill="#fff" stroke="#4a9794" stroke-width="1.7"/>
<circle cx="402.1" cy="444.2" r="5.0" fill="#fff" stroke="#4a9794" stroke-width="1.7"/>
<circle cx="402.1" cy="445.3" r="5.0" fill="#fff" stroke="#4a9794" stroke-width="1.7"/>
<circle cx="402.2" cy="446.4" r="5.0" fill="#fff" stroke="#4a9794" stroke-width="1.7"/>
<circle cx="402.2" cy="447.6" r="5.0" fill="#fff" stroke="#4a9794" stroke-width="1.7"/>
<circle cx="402.2" cy="448.7" r="5.0" fill="#fff" stroke="#4a9794" stroke-width="1.7"/>
<circle cx="402.3" cy="449.8" r="5.0" fill="#fff" stroke="#4a9794" stroke-width="1.7"/>
<circle cx="402.3" cy="450.9" r="5.0" fill="#fff" stroke="#4a9794" stroke-width="1.7"/>
<circle cx="402.4" cy="452.0" r="5.0" fill="#fff" stroke="#4a9794" stroke-width="1.7"/>
<circle cx="402.4" cy="453.1" r="5.0" fill="#fff" stroke="#4a9794" stroke-width="1.7"/>
<circle cx="402.4" cy="454.2" r="5.0" fill="#fff" stroke="#4a9794" stroke-width="1.7"/>
<circle cx="402.5" cy="455.3" r="5.0" fill="#fff" stroke="#4a9794" stroke-width="1.7"/>
<circle cx="402.5" cy="456.4" r="5.0" fill="#fff" stroke="#4a9794" stroke-width="1.7"/>
<circle cx="402.5" cy="457.6" r="5.0" fill="#fff" stroke="#4a9794" stroke-width="1.7"/>
<circle cx="402.6" cy="458.7" r="5.0" fill="#fff" stroke="#4a9794" stroke-width="1.7"/>
<circle cx="402.6" cy="459.8" r="5.0" fill="#fff" stroke="#4a9794" stroke-width="1.7"/>
<circle cx="402.7" cy="460.9" r="5.0" fill="#fff" stroke="#4a9794" stroke-width="1.7"/>
<circle cx="402.7" cy="462.0" r="5.0" fill="#fff" stroke="#4a9794" stroke-width="1.7"/>
<circle cx="402.7" cy="463.1" r="5.0" fill="#fff" stroke="#4a9794" stroke-width="1.7"/>
<circle cx="402.7" cy="464.2" r="5.0" fill="#fff" stroke="#4a9794" stroke-width="1.7"/>
<circle cx="402.7" cy="465.3" r="5.0" fill="#fff" stroke="#4a9794" stroke-width="1.7"/>
<circle cx="402.7" cy="466.4" r="5.0" fill="#fff" stroke="#4a9794" stroke-width="1.7"/>
<circle cx="402.7" cy="467.5" r="5.0" fill="#fff" stroke="#4a9794" stroke-width="1.7"/>
<circle cx="402.7" cy="468.6" r="5.0" fill="#fff" stroke="#4a9794" stroke-width="1.7"/>
<circle cx="402.8" cy="469.7" r="5.0" fill="#fff" stroke="#4a9794" stroke-width="1.7"/>
<circle cx="402.8" cy="470.8" r="5.0" fill="#fff" stroke="#4a9794" stroke-width="1.7"/>
<circle cx="402.8" cy="471.9" r="5.0" fill="#fff" stroke="#4a9794" stroke-width="1.7"/>
<circle cx="402.8" cy="473.0" r="5.0" fill="#fff" stroke="#4a9794" stroke-width="1.7"/>
<circle cx="402.8" cy="474.1" r="5.0" fill="#fff" stroke="#4a9794" stroke-width="1.7"/>
<circle cx="402.8" cy="475.2" r="5.0" fill="#fff" stroke="#4a9794" stroke-width="1.7"/>
<circle cx="402.8" cy="476.3" r="5.0" fill="#fff" stroke="#4a9794" stroke-width="1.7"/>
<circle cx="402.8" cy="477.4" r="5.0" fill="#fff" stroke="#4a9794" stroke-width="1.7"/>
<circle cx="402.8" cy="478.5" r="5.0" fill="#fff" stroke="#4a9794" stroke-width="1.7"/>
<circle cx="402.8" cy="479.6" r="5.0" fill="#fff" stroke="#4a9794" stroke-width="1.7"/>
<circle cx="402.8" cy="480.7" r="5.0" fill="#fff" stroke="#4a9794" stroke-width="1.7"/>
<circle cx="402.8" cy="481.8" r="5.0" fill="#fff" stroke="#4a9794" stroke-width="1.7"/>
<circle cx="402.8" cy="482.9" r="5.0" fill="#fff" stroke="#4a9794" stroke-width="1.7"/>
<circle cx="402.9" cy="484.1" r="5.0" fill="#fff" stroke="#4a9794" stroke-width="1.7"/>
<circle cx="402.9" cy="485.2" r="5.0" fill="#fff" stroke="#4a9794" stroke-width="1.7"/>
<circle cx="402.9" cy="486.3" r="5.0" fill="#fff" stroke="#4a9794" stroke-width="1.7"/>
<circle cx="402.9" cy="487.4" r="5.0" fill="#fff" stroke="#4a9794" stroke-width="1.7"/>
<circle cx="402.9" cy="488.5" r="5.0" fill="#fff" stroke="#4a9794" stroke-width="1.7"/>
<circle cx="402.9" cy="489.6" r="5.0" fill="#fff" stroke="#4a9794" stroke-width="1.7"/>
<circle cx="402.9" cy="490.7" r="5.0" fill="#fff" stroke="#4a9794" stroke-width="1.7"/>
<circle cx="402.9" cy="491.8" r="5.0" fill="#fff" stroke="#4a9794" stroke-width="1.7"/>
<circle cx="402.9" cy="492.9" r="5.0" fill="#fff" stroke="#4a9794" stroke-width="1.7"/>
<circle cx="402.9" cy="494.0" r="5.0" fill="#fff" stroke="#4a9794" stroke-width="1.7"/>
<circle cx="402.9" cy="495.1" r="5.0" fill="#fff" stroke="#4a9794" stroke-width="1.7"/>
<circle cx="402.9" cy="496.2" r="5.0" fill="#fff" stroke="#4a9794" stroke-width="1.7"/>
<circle cx="402.9" cy="497.3" r="5.0" fill="#fff" stroke="#4a9794" stroke-width="1.7"/>
<circle cx="403.0" cy="498.4" r="5.0" fill="#fff" stroke="#4a9794" stroke-width="1.7"/>
<circle cx="403.0" cy="499.5" r="5.0" fill="#fff" stroke="#4a9794" stroke-width="1.7"/>
<circle cx="403.0" cy="500.6" r="5.0" fill="#fff" stroke="#4a9794" stroke-width="1.7"/>
<circle cx="403.0" cy="501.7" r="5.0" fill="#fff" stroke="#4a9794" stroke-width="1.7"/>
<circle cx="403.0" cy="502.8" r="5.0" fill="#fff" stroke="#4a9794" stroke-width="1.7"/>
<circle cx="403.0" cy="503.9" r="5.0" fill="#fff" stroke="#4a9794" stroke-width="1.7"/>
<circle cx="403.0" cy="505.0" r="5.0" fill="#fff" stroke="#4a9794" stroke-width="1.7"/>
<circle cx="380.0" cy="414.0" r="5.0" fill="#fff" stroke="#4a9794" stroke-width="1.7"/>
<circle cx="381.1" cy="414.1" r="5.0" fill="#fff" stroke="#4a9794" stroke-width="1.7"/>
<circle cx="382.2" cy="414.1" r="5.0" fill="#fff" stroke="#4a9794" stroke-width="1.7"/>
<circle cx="383.3" cy="414.2" r="5.0" fill="#fff" stroke="#4a9794" stroke-width="1.7"/>
<circle cx="384.4" cy="414.2" r="5.0" fill="#fff" stroke="#4a9794" stroke-width="1.7"/>
<circle cx="385.6" cy="414.3" r="5.0" fill="#fff" stroke="#4a9794" stroke-width="1.7"/>
<circle cx="386.7" cy="414.3" r="5.0" fill="#fff" stroke="#4a9794" stroke-width="1.7"/>
<circle cx="387.8" cy="414.4" r="5.0" fill="#fff" stroke="#4a9794" stroke-width="1.7"/>
<circle cx="388.9" cy="414.4" r="5.0" fill="#fff" stroke="#4a9794" stroke-width="1.7"/>
<circle cx="390.0" cy="414.5" r="5.0" fill="#fff" stroke="#4a9794" stroke-width="1.7"/>
<circle cx="391.1" cy="414.9" r="5.0" fill="#fff" stroke="#4a9794" stroke-width="1.7"/>
<circle cx="392.3" cy="415.2" r="5.0" fill="#fff" stroke="#4a9794" stroke-width="1.7"/>
<circle cx="393.4" cy="415.6" r="5.0" fill="#fff" stroke="#4a9794" stroke-width="1.7"/>
<circle cx="394.6" cy="415.9" r="5.0" fill="#fff" stroke="#4a9794" stroke-width="1.7"/>
<circle cx="395.7" cy="416.3" r="5.0" fill="#fff" stroke="#4a9794" stroke-width="1.7"/>
<circle cx="396.9" cy="416.6" r="5.0" fill="#fff" stroke="#4a9794" stroke-width="1.7"/>
<circle cx="398.0" cy="417.0" r="5.0" fill="#fff" stroke="#4a9794" stroke-width="1.7"/>
<circle cx="398.7" cy="417.9" r="5.0" fill="#fff" stroke="#4a9794" stroke-width="1.7"/>
<circle cx="399.4" cy="418.7" r="5.0" fill="#fff" stroke="#4a9794" stroke-width="1.7"/>
<circle cx="400.1" cy="419.6" r="5.0" fill="#fff" stroke="#4a9794" stroke-width="1.7"/>
<circle cx="400.9" cy="420.4" r="5.0" fill="#fff" stroke="#4a9794" stroke-width="1.7"/>
<circle cx="401.6" cy="421.3" r="5.0" fill="#fff" stroke="#4a9794" stroke-width="1.7"/>
<circle cx="402.3" cy="422.1" r="5.0" fill="#fff" stroke="#4a9794" stroke-width="1.7"/>
<circle cx="403.0" cy="423.0" r="5.0" fill="#fff" stroke="#4a9794" stroke-width="1.7"/>
<circle cx="403.3" cy="424.1" r="5.0" fill="#fff" stroke="#4a9794" stroke-width="1.7"/>
<circle cx="403.6" cy="425.2" r="5.0" fill="#fff" stroke="#4a9794" stroke-width="1.7"/>
<circle cx="403.8" cy="426.3" r="5.0" fill="#fff" stroke="#4a9794" stroke-width="1.7"/>
<circle cx="404.1" cy="427.4" r="5.0" fill="#fff" stroke="#4a9794" stroke-width="1.7"/>
<circle cx="404.4" cy="428.6" r="5.0" fill="#fff" stroke="#4a9794" stroke-width="1.7"/>
<circle cx="404.7" cy="429.7" r="5.0" fill="#fff" stroke="#4a9794" stroke-width="1.7"/>
<circle cx="404.9" cy="430.8" r="5.0" fill="#fff" stroke="#4a9794" stroke-width="1.7"/>
<circle cx="405.2" cy="431.9" r="5.0" fill="#fff" stroke="#4a9794" stroke-width="1.7"/>
<circle cx="405.5" cy="433.0" r="5.0" fill="#fff" stroke="#4a9794" stroke-width="1.7"/>
<circle cx="405.6" cy="434.2" r="5.0" fill="#fff" stroke="#4a9794" stroke-width="1.7"/>
<circle cx="405.6" cy="435.3" r="5.0" fill="#fff" stroke="#4a9794" stroke-width="1.7"/>
<circle cx="405.7" cy="436.5" r="5.0" fill="#fff" stroke="#4a9794" stroke-width="1.7"/>
<circle cx="405.8" cy="437.7" r="5.0" fill="#fff" stroke="#4a9794" stroke-width="1.7"/>
<circle cx="405.8" cy="438.8" r="5.0" fill="#fff" stroke="#4a9794" stroke-width="1.7"/>
<circle cx="405.9" cy="440.0" r="5.0" fill="#fff" stroke="#4a9794" stroke-width="1.7"/>
<circle cx="406.0" cy="441.2" r="5.0" fill="#fff" stroke="#4a9794" stroke-width="1.7"/>
<circle cx="406.0" cy="442.3" r="5.0" fill="#fff" stroke="#4a9794" stroke-width="1.7"/>
<circle cx="406.1" cy="443.5" r="5.0" fill="#fff" stroke="#4a9794" stroke-width="1.7"/>
<circle cx="406.2" cy="444.7" r="5.0" fill="#fff" stroke="#4a9794" stroke-width="1.7"/>
<circle cx="406.2" cy="445.8" r="5.0" fill="#fff" stroke="#4a9794" stroke-width="1.7"/>
<circle cx="406.3" cy="447.0" r="5.0" fill="#fff" stroke="#4a9794" stroke-width="1.7"/>
<circle cx="406.3" cy="448.1" r="5.0" fill="#fff" stroke="#4a9794" stroke-width="1.7"/>
<circle cx="406.3" cy="449.3" r="5.0" fill="#fff" stroke="#4a9794" stroke-width="1.7"/>
<circle cx="406.3" cy="450.4" r="5.0" fill="#fff" stroke="#4a9794" stroke-width="1.7"/>
<circle cx="406.3" cy="451.6" r="5.0" fill="#fff" stroke="#4a9794" stroke-width="1.7"/>
<circle cx="406.4" cy="452.8" r="5.0" fill="#fff" stroke="#4a9794" stroke-width="1.7"/>
<circle cx="406.4" cy="453.9" r="5.0" fill="#fff" stroke="#4a9794" stroke-width="1.7"/>
<circle cx="406.4" cy="455.1" r="5.0" fill="#fff" stroke="#4a9794" stroke-width="1.7"/>
<circle cx="406.4" cy="456.2" r="5.0" fill="#fff" stroke="#4a9794" stroke-width="1.7"/>
<circle cx="406.4" cy="457.4" r="5.0" fill="#fff" stroke="#4a9794" stroke-width="1.7"/>
<circle cx="406.4" cy="458.5" r="5.0" fill="#fff" stroke="#4a9794" stroke-width="1.7"/>
<circle cx="406.4" cy="459.6" r="5.0" fill="#fff" stroke="#4a9794" stroke-width="1.7"/>
<circle cx="406.4" cy="460.8" r="5.0" fill="#fff" stroke="#4a9794" stroke-width="1.7"/>
<circle cx="406.4" cy="461.9" r="5.0" fill="#fff" stroke="#4a9794" stroke-width="1.7"/>
<circle cx="406.4" cy="463.1" r="5.0" fill="#fff" stroke="#4a9794" stroke-width="1.7"/>
<circle cx="406.4" cy="464.2" r="5.0" fill="#fff" stroke="#4a9794" stroke-width="1.7"/>
<circle cx="406.5" cy="465.4" r="5.0" fill="#fff" stroke="#4a9794" stroke-width="1.7"/>
<circle cx="406.5" cy="466.6" r="5.0" fill="#fff" stroke="#4a9794" stroke-width="1.7"/>
<circle cx="406.5" cy="467.7" r="5.0" fill="#fff" stroke="#4a9794" stroke-width="1.7"/>
<circle cx="406.5" cy="468.9" r="5.0" fill="#fff" stroke="#4a9794" stroke-width="1.7"/>
<circle cx="406.5" cy="470.0" r="5.0" fill="#fff" stroke="#4a9794" stroke-width="1.7"/>
<circle cx="406.5" cy="471.1" r="5.0" fill="#fff" stroke="#4a9794" stroke-width="1.7"/>
<circle cx="406.5" cy="472.3" r="5.0" fill="#fff" stroke="#4a9794" stroke-width="1.7"/>
<circle cx="406.5" cy="473.4" r="5.0" fill="#fff" stroke="#4a9794" stroke-width="1.7"/>
<circle cx="406.5" cy="474.5" r="5.0" fill="#fff" stroke="#4a9794" stroke-width="1.7"/>
<circle cx="406.5" cy="475.6" r="5.0" fill="#fff" stroke="#4a9794" stroke-width="1.7"/>
<circle cx="406.5" cy="476.8" r="5.0" fill="#fff" stroke="#4a9794" stroke-width="1.7"/>
<circle cx="406.5" cy="477.9" r="5.0" fill="#fff" stroke="#4a9794" stroke-width="1.7"/>
<circle cx="406.5" cy="479.0" r="5.0" fill="#fff" stroke="#4a9794" stroke-width="1.7"/>
<circle cx="406.5" cy="480.2" r="5.0" fill="#fff" stroke="#4a9794" stroke-width="1.7"/>
<circle cx="406.5" cy="481.3" r="5.0" fill="#fff" stroke="#4a9794" stroke-width="1.7"/>
<circle cx="406.5" cy="482.4" r="5.0" fill="#fff" stroke="#4a9794" stroke-width="1.7"/>
<circle cx="406.5" cy="483.5" r="5.0" fill="#fff" stroke="#4a9794" stroke-width="1.7"/>
<circle cx="406.5" cy="484.7" r="5.0" fill="#fff" stroke="#4a9794" stroke-width="1.7"/>
<circle cx="406.5" cy="485.8" r="5.0" fill="#fff" stroke="#4a9794" stroke-width="1.7"/>
<circle cx="406.5" cy="486.9" r="5.0" fill="#fff" stroke="#4a9794" stroke-width="1.7"/>
<circle cx="406.5" cy="488.1" r="5.0" fill="#fff" stroke="#4a9794" stroke-width="1.7"/>
<circle cx="406.5" cy="489.2" r="5.0" fill="#fff" stroke="#4a9794" stroke-width="1.7"/>
<circle cx="406.5" cy="490.3" r="5.0" fill="#fff" stroke="#4a9794" stroke-width="1.7"/>
<circle cx="406.5" cy="491.5" r="5.0" fill="#fff" stroke="#4a9794" stroke-width="1.7"/>
<circle cx="406.5" cy="492.6" r="5.0" fill="#fff" stroke="#4a9794" stroke-width="1.7"/>
<circle cx="406.5" cy="493.7" r="5.0" fill="#fff" stroke="#4a9794" stroke-width="1.7"/>
<circle cx="406.5" cy="494.8" r="5.0" fill="#fff" stroke="#4a9794" stroke-width="1.7"/>
<circle cx="406.5" cy="496.0" r="5.0" fill="#fff" stroke="#4a9794" stroke-width="1.7"/>
<circle cx="406.5" cy="497.1" r="5.0" fill="#fff" stroke="#4a9794" stroke-width="1.7"/>
<circle cx="406.5" cy="498.2" r="5.0" fill="#fff" stroke="#4a9794" stroke-width="1.7"/>
<circle cx="406.5" cy="499.4" r="5.0" fill="#fff" stroke="#4a9794" stroke-width="1.7"/>
<circle cx="406.5" cy="500.5" r="5.0" fill="#fff" stroke="#4a9794" stroke-width="1.7"/>
<circle cx="406.5" cy="501.6" r="5.0" fill="#fff" stroke="#4a9794" stroke-width="1.7"/>
<circle cx="406.5" cy="502.7" r="5.0" fill="#fff" stroke="#4a9794" stroke-width="1.7"/>
<circle cx="406.5" cy="503.9" r="5.0" fill="#fff" stroke="#4a9794" stroke-width="1.7"/>
<circle cx="406.5" cy="505.0" r="5.0" fill="#fff" stroke="#4a9794" stroke-width="1.7"/>
<circle cx="380.0" cy="457.0" r="4.7" fill="#fff" stroke="#4a9794" stroke-width="1.7"/>
<circle cx="381.2" cy="457.1" r="4.7" fill="#fff" stroke="#4a9794" stroke-width="1.7"/>
<circle cx="382.4" cy="457.2" r="4.7" fill="#fff" stroke="#4a9794" stroke-width="1.7"/>
<circle cx="383.6" cy="457.3" r="4.7" fill="#fff" stroke="#4a9794" stroke-width="1.7"/>
<circle cx="384.8" cy="457.4" r="4.7" fill="#fff" stroke="#4a9794" stroke-width="1.7"/>
<circle cx="386.0" cy="457.5" r="4.7" fill="#fff" stroke="#4a9794" stroke-width="1.7"/>
<circle cx="387.0" cy="458.1" r="4.7" fill="#fff" stroke="#4a9794" stroke-width="1.7"/>
<circle cx="388.0" cy="458.8" r="4.7" fill="#fff" stroke="#4a9794" stroke-width="1.7"/>
<circle cx="389.0" cy="459.4" r="4.7" fill="#fff" stroke="#4a9794" stroke-width="1.7"/>
<circle cx="390.0" cy="460.0" r="4.7" fill="#fff" stroke="#4a9794" stroke-width="1.7"/>
<circle cx="390.5" cy="461.0" r="4.7" fill="#fff" stroke="#4a9794" stroke-width="1.7"/>
<circle cx="391.0" cy="462.0" r="4.7" fill="#fff" stroke="#4a9794" stroke-width="1.7"/>
<circle cx="391.5" cy="463.0" r="4.7" fill="#fff" stroke="#4a9794" stroke-width="1.7"/>
<circle cx="392.0" cy="464.0" r="4.7" fill="#fff" stroke="#4a9794" stroke-width="1.7"/>
<circle cx="392.5" cy="465.0" r="4.7" fill="#fff" stroke="#4a9794" stroke-width="1.7"/>
<circle cx="393.0" cy="466.0" r="4.7" fill="#fff" stroke="#4a9794" stroke-width="1.7"/>
<circle cx="393.2" cy="467.1" r="4.7" fill="#fff" stroke="#4a9794" stroke-width="1.7"/>
<circle cx="393.4" cy="468.2" r="4.7" fill="#fff" stroke="#4a9794" stroke-width="1.7"/>
<circle cx="393.6" cy="469.4" r="4.7" fill="#fff" stroke="#4a9794" stroke-width="1.7"/>
<circle cx="393.8" cy="470.5" r="4.7" fill="#fff" stroke="#4a9794" stroke-width="1.7"/>
<circle cx="393.9" cy="471.6" r="4.7" fill="#fff" stroke="#4a9794" stroke-width="1.7"/>
<circle cx="394.1" cy="472.8" r="4.7" fill="#fff" stroke="#4a9794" stroke-width="1.7"/>
<circle cx="394.3" cy="473.9" r="4.7" fill="#fff" stroke="#4a9794" stroke-width="1.7"/>
<circle cx="394.5" cy="475.0" r="4.7" fill="#fff" stroke="#4a9794" stroke-width="1.7"/>
<circle cx="394.5" cy="476.2" r="4.7" fill="#fff" stroke="#4a9794" stroke-width="1.7"/>
<circle cx="394.5" cy="477.3" r="4.7" fill="#fff" stroke="#4a9794" stroke-width="1.7"/>
<circle cx="394.6" cy="478.5" r="4.7" fill="#fff" stroke="#4a9794" stroke-width="1.7"/>
<circle cx="394.6" cy="479.6" r="4.7" fill="#fff" stroke="#4a9794" stroke-width="1.7"/>
<circle cx="394.6" cy="480.8" r="4.7" fill="#fff" stroke="#4a9794" stroke-width="1.7"/>
<circle cx="394.6" cy="481.9" r="4.7" fill="#fff" stroke="#4a9794" stroke-width="1.7"/>
<circle cx="394.7" cy="483.1" r="4.7" fill="#fff" stroke="#4a9794" stroke-width="1.7"/>
<circle cx="394.7" cy="484.2" r="4.7" fill="#fff" stroke="#4a9794" stroke-width="1.7"/>
<circle cx="394.7" cy="485.4" r="4.7" fill="#fff" stroke="#4a9794" stroke-width="1.7"/>
<circle cx="394.7" cy="486.5" r="4.7" fill="#fff" stroke="#4a9794" stroke-width="1.7"/>
<circle cx="394.8" cy="487.7" r="4.7" fill="#fff" stroke="#4a9794" stroke-width="1.7"/>
<circle cx="394.8" cy="488.8" r="4.7" fill="#fff" stroke="#4a9794" stroke-width="1.7"/>
<circle cx="394.8" cy="490.0" r="4.7" fill="#fff" stroke="#4a9794" stroke-width="1.7"/>
<circle cx="394.8" cy="491.2" r="4.7" fill="#fff" stroke="#4a9794" stroke-width="1.7"/>
<circle cx="394.8" cy="492.3" r="4.7" fill="#fff" stroke="#4a9794" stroke-width="1.7"/>
<circle cx="394.8" cy="493.5" r="4.7" fill="#fff" stroke="#4a9794" stroke-width="1.7"/>
<circle cx="394.9" cy="494.6" r="4.7" fill="#fff" stroke="#4a9794" stroke-width="1.7"/>
<circle cx="394.9" cy="495.8" r="4.7" fill="#fff" stroke="#4a9794" stroke-width="1.7"/>
<circle cx="394.9" cy="496.9" r="4.7" fill="#fff" stroke="#4a9794" stroke-width="1.7"/>
<circle cx="394.9" cy="498.1" r="4.7" fill="#fff" stroke="#4a9794" stroke-width="1.7"/>
<circle cx="394.9" cy="499.2" r="4.7" fill="#fff" stroke="#4a9794" stroke-width="1.7"/>
<circle cx="394.9" cy="500.4" r="4.7" fill="#fff" stroke="#4a9794" stroke-width="1.7"/>
<circle cx="395.0" cy="501.5" r="4.7" fill="#fff" stroke="#4a9794" stroke-width="1.7"/>
<circle cx="395.0" cy="502.7" r="4.7" fill="#fff" stroke="#4a9794" stroke-width="1.7"/>
<circle cx="395.0" cy="503.8" r="4.7" fill="#fff" stroke="#4a9794" stroke-width="1.7"/>
<circle cx="395.0" cy="505.0" r="4.7" fill="#fff" stroke="#4a9794" stroke-width="1.7"/>
<circle cx="380.0" cy="497.0" r="4" fill="#fff" stroke="#4a9794" stroke-width="1.7"/>
<circle cx="382.0" cy="496.5" r="4" fill="#fff" stroke="#4a9794" stroke-width="1.7"/>
<circle cx="384.0" cy="496.0" r="4" fill="#fff" stroke="#4a9794" stroke-width="1.7"/>
<circle cx="385.0" cy="497.3" r="4" fill="#fff" stroke="#4a9794" stroke-width="1.7"/>
<circle cx="386.0" cy="498.7" r="4" fill="#fff" stroke="#4a9794" stroke-width="1.7"/>
<circle cx="387.0" cy="500.0" r="4" fill="#fff" stroke="#4a9794" stroke-width="1.7"/>
<polygon points="424.0,500.2 428.6,503.5 426.8,508.9 421.2,508.9 419.4,503.5" fill="#fff" stroke="#4a9794" stroke-width="1.3"/>
<polygon points="424.1,497.9 428.6,501.3 426.9,506.6 421.2,506.6 419.5,501.3" fill="#fff" stroke="#4a9794" stroke-width="1.3"/>
<polygon points="424.1,495.7 428.7,499.0 426.9,504.4 421.3,504.4 419.5,499.0" fill="#fff" stroke="#4a9794" stroke-width="1.3"/>
<polygon points="424.1,493.4 428.7,496.8 427.0,502.1 421.3,502.1 419.6,496.8" fill="#fff" stroke="#4a9794" stroke-width="1.3"/>
<polygon points="424.2,491.2 428.8,494.5 427.0,499.9 421.4,499.9 419.6,494.5" fill="#fff" stroke="#4a9794" stroke-width="1.3"/>
<polygon points="424.2,488.9 428.8,492.3 427.1,497.6 421.4,497.6 419.7,492.3" fill="#fff" stroke="#4a9794" stroke-width="1.3"/>
<polygon points="424.3,486.7 428.9,490.0 427.1,495.4 421.5,495.4 419.7,490.0" fill="#fff" stroke="#4a9794" stroke-width="1.3"/>
<polygon points="424.4,484.4 428.9,487.8 427.2,493.1 421.5,493.1 419.8,487.8" fill="#fff" stroke="#4a9794" stroke-width="1.3"/>
<polygon points="424.4,482.2 429.0,485.5 427.2,490.9 421.6,490.9 419.8,485.5" fill="#fff" stroke="#4a9794" stroke-width="1.3"/>
<polygon points="424.4,479.9 429.0,483.3 427.3,488.6 421.6,488.6 419.9,483.3" fill="#fff" stroke="#4a9794" stroke-width="1.3"/>
<polygon points="424.5,477.7 429.1,481.0 427.3,486.4 421.7,486.4 419.9,481.0" fill="#fff" stroke="#4a9794" stroke-width="1.3"/>
<polygon points="424.6,475.4 429.1,478.8 427.4,484.1 421.7,484.1 420.0,478.8" fill="#fff" stroke="#4a9794" stroke-width="1.3"/>
<polygon points="424.6,473.2 429.2,476.5 427.4,481.9 421.8,481.9 420.0,476.5" fill="#fff" stroke="#4a9794" stroke-width="1.3"/>
<polygon points="424.6,470.9 429.2,474.3 427.5,479.6 421.8,479.6 420.1,474.3" fill="#fff" stroke="#4a9794" stroke-width="1.3"/>
<polygon points="424.7,468.7 429.3,472.0 427.5,477.4 421.9,477.4 420.1,472.0" fill="#fff" stroke="#4a9794" stroke-width="1.3"/>
<polygon points="424.8,466.4 429.3,469.8 427.6,475.1 421.9,475.1 420.2,469.8" fill="#fff" stroke="#4a9794" stroke-width="1.3"/>
<polygon points="424.8,464.2 429.4,467.5 427.6,472.9 422.0,472.9 420.2,467.5" fill="#fff" stroke="#4a9794" stroke-width="1.3"/>
<polygon points="424.9,461.9 429.4,465.3 427.7,470.6 422.0,470.6 420.3,465.3" fill="#fff" stroke="#4a9794" stroke-width="1.3"/>
<polygon points="424.9,459.7 429.5,463.0 427.7,468.4 422.1,468.4 420.3,463.0" fill="#fff" stroke="#4a9794" stroke-width="1.3"/>
<polygon points="424.9,457.4 429.5,460.8 427.8,466.1 422.1,466.1 420.4,460.8" fill="#fff" stroke="#4a9794" stroke-width="1.3"/>
<polygon points="425.0,455.2 429.6,458.5 427.8,463.9 422.2,463.9 420.4,458.5" fill="#fff" stroke="#4a9794" stroke-width="1.3"/>
<polygon points="425.2,452.9 429.8,456.2 428.1,461.5 422.4,461.5 420.7,456.2" fill="#fff" stroke="#4a9794" stroke-width="1.3"/>
<polygon points="425.5,450.5 430.1,453.9 428.3,459.2 422.7,459.2 420.9,453.9" fill="#fff" stroke="#4a9794" stroke-width="1.3"/>
<polygon points="425.8,448.2 430.3,451.5 428.6,456.9 422.9,456.9 421.2,451.5" fill="#fff" stroke="#4a9794" stroke-width="1.3"/>
<polygon points="426.0,445.9 430.6,449.2 428.8,454.5 423.2,454.5 421.4,449.2" fill="#fff" stroke="#4a9794" stroke-width="1.3"/>
<polygon points="426.2,443.5 430.8,446.9 429.1,452.2 423.4,452.2 421.7,446.9" fill="#fff" stroke="#4a9794" stroke-width="1.3"/>
<polygon points="426.5,441.2 431.1,444.5 429.3,449.9 423.7,449.9 421.9,444.5" fill="#fff" stroke="#4a9794" stroke-width="1.3"/>
<polygon points="426.8,438.9 431.3,442.2 429.6,447.5 423.9,447.5 422.2,442.2" fill="#fff" stroke="#4a9794" stroke-width="1.3"/>
<polygon points="427.0,436.5 431.6,439.9 429.8,445.2 424.2,445.2 422.4,439.9" fill="#fff" stroke="#4a9794" stroke-width="1.3"/>
<polygon points="427.2,434.2 431.8,437.5 430.1,442.9 424.4,442.9 422.7,437.5" fill="#fff" stroke="#4a9794" stroke-width="1.3"/>
<polygon points="427.5,431.9 432.1,435.2 430.3,440.5 424.7,440.5 422.9,435.2" fill="#fff" stroke="#4a9794" stroke-width="1.3"/>
<polygon points="427.8,429.5 432.3,432.9 430.6,438.2 424.9,438.2 423.2,432.9" fill="#fff" stroke="#4a9794" stroke-width="1.3"/>
<polygon points="428.0,427.2 432.6,430.5 430.8,435.9 425.2,435.9 423.4,430.5" fill="#fff" stroke="#4a9794" stroke-width="1.3"/>
<polygon points="429.2,425.0 433.8,428.3 432.0,433.7 426.4,433.7 424.6,428.3" fill="#fff" stroke="#4a9794" stroke-width="1.3"/>
<polygon points="430.4,422.8 435.0,426.1 433.2,431.5 427.6,431.5 425.8,426.1" fill="#fff" stroke="#4a9794" stroke-width="1.3"/>
<polygon points="431.6,420.6 436.2,423.9 434.4,429.3 428.8,429.3 427.0,423.9" fill="#fff" stroke="#4a9794" stroke-width="1.3"/>
<polygon points="432.8,418.4 437.4,421.7 435.6,427.1 430.0,427.1 428.2,421.7" fill="#fff" stroke="#4a9794" stroke-width="1.3"/>
<polygon points="434.0,416.2 438.6,419.5 436.8,424.9 431.2,424.9 429.4,419.5" fill="#fff" stroke="#4a9794" stroke-width="1.3"/>
<polygon points="436.3,415.9 440.9,419.2 439.2,424.5 433.5,424.5 431.8,419.2" fill="#fff" stroke="#4a9794" stroke-width="1.3"/>
<polygon points="438.7,415.5 443.2,418.9 441.5,424.2 435.8,424.2 434.1,418.9" fill="#fff" stroke="#4a9794" stroke-width="1.3"/>
<polygon points="441.0,415.2 445.6,418.5 443.8,423.9 438.2,423.9 436.4,418.5" fill="#fff" stroke="#4a9794" stroke-width="1.3"/>
<polygon points="442.4,417.2 447.0,420.5 445.2,425.9 439.6,425.9 437.8,420.5" fill="#fff" stroke="#4a9794" stroke-width="1.3"/>
<polygon points="443.8,419.2 448.4,422.5 446.6,427.9 441.0,427.9 439.2,422.5" fill="#fff" stroke="#4a9794" stroke-width="1.3"/>
<polygon points="445.2,421.2 449.8,424.5 448.0,429.9 442.4,429.9 440.6,424.5" fill="#fff" stroke="#4a9794" stroke-width="1.3"/>
<polygon points="446.6,423.2 451.2,426.5 449.4,431.9 443.8,431.9 442.0,426.5" fill="#fff" stroke="#4a9794" stroke-width="1.3"/>
<polygon points="448.0,425.2 452.6,428.5 450.8,433.9 445.2,433.9 443.4,428.5" fill="#fff" stroke="#4a9794" stroke-width="1.3"/>
<polygon points="448.7,427.4 453.2,430.7 451.5,436.1 445.8,436.1 444.1,430.7" fill="#fff" stroke="#4a9794" stroke-width="1.3"/>
<polygon points="449.3,429.6 453.9,433.0 452.2,438.3 446.5,438.3 444.8,433.0" fill="#fff" stroke="#4a9794" stroke-width="1.3"/>
<polygon points="450.0,431.9 454.6,435.2 452.8,440.5 447.2,440.5 445.4,435.2" fill="#fff" stroke="#4a9794" stroke-width="1.3"/>
<polygon points="450.7,434.1 455.2,437.4 453.5,442.8 447.8,442.8 446.1,437.4" fill="#fff" stroke="#4a9794" stroke-width="1.3"/>
<polygon points="451.3,436.3 455.9,439.6 454.2,445.0 448.5,445.0 446.8,439.6" fill="#fff" stroke="#4a9794" stroke-width="1.3"/>
<polygon points="452.0,438.5 456.6,441.9 454.8,447.2 449.2,447.2 447.4,441.9" fill="#fff" stroke="#4a9794" stroke-width="1.3"/>
<polygon points="452.7,440.8 457.2,444.1 455.5,449.4 449.8,449.4 448.1,444.1" fill="#fff" stroke="#4a9794" stroke-width="1.3"/>
<polygon points="453.3,443.0 457.9,446.3 456.2,451.7 450.5,451.7 448.8,446.3" fill="#fff" stroke="#4a9794" stroke-width="1.3"/>
<polygon points="454.0,445.2 458.6,448.5 456.8,453.9 451.2,453.9 449.4,448.5" fill="#fff" stroke="#4a9794" stroke-width="1.3"/>
<polygon points="454.4,447.5 458.9,450.8 457.2,456.2 451.5,456.2 449.8,450.8" fill="#fff" stroke="#4a9794" stroke-width="1.3"/>
<polygon points="454.7,449.7 459.3,453.1 457.5,458.4 451.9,458.4 450.2,453.1" fill="#fff" stroke="#4a9794" stroke-width="1.3"/>
<polygon points="455.1,452.0 459.7,455.3 457.9,460.7 452.3,460.7 450.5,455.3" fill="#fff" stroke="#4a9794" stroke-width="1.3"/>
<polygon points="455.5,454.3 460.0,457.6 458.3,463.0 452.6,463.0 450.9,457.6" fill="#fff" stroke="#4a9794" stroke-width="1.3"/>
<polygon points="455.8,456.6 460.4,459.9 458.6,465.2 453.0,465.2 451.3,459.9" fill="#fff" stroke="#4a9794" stroke-width="1.3"/>
<polygon points="456.2,458.8 460.7,462.2 459.0,467.5 453.4,467.5 451.6,462.2" fill="#fff" stroke="#4a9794" stroke-width="1.3"/>
<polygon points="456.5,461.1 461.1,464.4 459.4,469.8 453.7,469.8 452.0,464.4" fill="#fff" stroke="#4a9794" stroke-width="1.3"/>
<polygon points="456.9,463.4 461.5,466.7 459.7,472.1 454.1,472.1 452.3,466.7" fill="#fff" stroke="#4a9794" stroke-width="1.3"/>
<polygon points="457.3,465.7 461.8,469.0 460.1,474.3 454.5,474.3 452.7,469.0" fill="#fff" stroke="#4a9794" stroke-width="1.3"/>
<polygon points="457.6,467.9 462.2,471.2 460.5,476.6 454.8,476.6 453.1,471.2" fill="#fff" stroke="#4a9794" stroke-width="1.3"/>
<polygon points="458.0,470.2 462.6,473.5 460.8,478.9 455.2,478.9 453.4,473.5" fill="#fff" stroke="#4a9794" stroke-width="1.3"/>
<polygon points="458.2,472.5 462.7,475.8 461.0,481.2 455.3,481.2 453.6,475.8" fill="#fff" stroke="#4a9794" stroke-width="1.3"/>
<polygon points="458.3,474.8 462.9,478.1 461.1,483.5 455.5,483.5 453.7,478.1" fill="#fff" stroke="#4a9794" stroke-width="1.3"/>
<polygon points="458.5,477.1 463.0,480.4 461.3,485.8 455.6,485.8 453.9,480.4" fill="#fff" stroke="#4a9794" stroke-width="1.3"/>
<polygon points="458.6,479.4 463.2,482.7 461.4,488.1 455.8,488.1 454.1,482.7" fill="#fff" stroke="#4a9794" stroke-width="1.3"/>
<polygon points="458.8,481.7 463.3,485.1 461.6,490.4 455.9,490.4 454.2,485.1" fill="#fff" stroke="#4a9794" stroke-width="1.3"/>
<polygon points="458.9,484.0 463.5,487.4 461.7,492.7 456.1,492.7 454.4,487.4" fill="#fff" stroke="#4a9794" stroke-width="1.3"/>
<polygon points="459.1,486.4 463.6,489.7 461.9,495.0 456.3,495.0 454.5,489.7" fill="#fff" stroke="#4a9794" stroke-width="1.3"/>
<polygon points="459.2,488.7 463.8,492.0 462.1,497.3 456.4,497.3 454.7,492.0" fill="#fff" stroke="#4a9794" stroke-width="1.3"/>
<polygon points="459.4,491.0 463.9,494.3 462.2,499.7 456.6,499.7 454.8,494.3" fill="#fff" stroke="#4a9794" stroke-width="1.3"/>
<polygon points="459.5,493.3 464.1,496.6 462.4,502.0 456.7,502.0 455.0,496.6" fill="#fff" stroke="#4a9794" stroke-width="1.3"/>
<polygon points="459.7,495.6 464.3,498.9 462.5,504.3 456.9,504.3 455.1,498.9" fill="#fff" stroke="#4a9794" stroke-width="1.3"/>
<polygon points="459.8,497.9 464.4,501.2 462.7,506.6 457.0,506.6 455.3,501.2" fill="#fff" stroke="#4a9794" stroke-width="1.3"/>
<polygon points="460.0,500.2 464.6,503.5 462.8,508.9 457.2,508.9 455.4,503.5" fill="#fff" stroke="#4a9794" stroke-width="1.3"/>
<polygon points="436.0,500.2 440.6,503.5 438.8,508.9 433.2,508.9 431.4,503.5" fill="#fff" stroke="#4a9794" stroke-width="1.3"/>
<polygon points="436.1,497.9 440.6,501.2 438.9,506.5 433.2,506.5 431.5,501.2" fill="#fff" stroke="#4a9794" stroke-width="1.3"/>
<polygon points="436.1,495.5 440.7,498.9 439.0,504.2 433.3,504.2 431.6,498.9" fill="#fff" stroke="#4a9794" stroke-width="1.3"/>
<polygon points="436.2,493.2 440.8,496.5 439.0,501.9 433.4,501.9 431.6,496.5" fill="#fff" stroke="#4a9794" stroke-width="1.3"/>
<polygon points="436.3,490.9 440.8,494.2 439.1,499.5 433.4,499.5 431.7,494.2" fill="#fff" stroke="#4a9794" stroke-width="1.3"/>
<polygon points="436.3,488.5 440.9,491.9 439.2,497.2 433.5,497.2 431.8,491.9" fill="#fff" stroke="#4a9794" stroke-width="1.3"/>
<polygon points="436.4,486.2 441.0,489.5 439.2,494.9 433.6,494.9 431.8,489.5" fill="#fff" stroke="#4a9794" stroke-width="1.3"/>
<polygon points="436.5,483.9 441.0,487.2 439.3,492.5 433.6,492.5 431.9,487.2" fill="#fff" stroke="#4a9794" stroke-width="1.3"/>
<polygon points="436.5,481.5 441.1,484.9 439.4,490.2 433.7,490.2 432.0,484.9" fill="#fff" stroke="#4a9794" stroke-width="1.3"/>
<polygon points="436.6,479.2 441.2,482.5 439.4,487.9 433.8,487.9 432.0,482.5" fill="#fff" stroke="#4a9794" stroke-width="1.3"/>
<polygon points="436.7,476.9 441.2,480.2 439.5,485.5 433.8,485.5 432.1,480.2" fill="#fff" stroke="#4a9794" stroke-width="1.3"/>
<polygon points="436.7,474.5 441.3,477.9 439.6,483.2 433.9,483.2 432.2,477.9" fill="#fff" stroke="#4a9794" stroke-width="1.3"/>
<polygon points="436.8,472.2 441.4,475.5 439.6,480.9 434.0,480.9 432.2,475.5" fill="#fff" stroke="#4a9794" stroke-width="1.3"/>
<polygon points="436.9,469.9 441.4,473.2 439.7,478.5 434.0,478.5 432.3,473.2" fill="#fff" stroke="#4a9794" stroke-width="1.3"/>
<polygon points="436.9,467.5 441.5,470.9 439.8,476.2 434.1,476.2 432.4,470.9" fill="#fff" stroke="#4a9794" stroke-width="1.3"/>
<polygon points="437.0,465.2 441.6,468.5 439.8,473.9 434.2,473.9 432.4,468.5" fill="#fff" stroke="#4a9794" stroke-width="1.3"/>
<polygon points="437.4,463.0 442.0,466.3 440.3,471.7 434.6,471.7 432.9,466.3" fill="#fff" stroke="#4a9794" stroke-width="1.3"/>
<polygon points="437.9,460.8 442.5,464.1 440.7,469.4 435.1,469.4 433.3,464.1" fill="#fff" stroke="#4a9794" stroke-width="1.3"/>
<polygon points="438.3,458.5 442.9,461.9 441.2,467.2 435.5,467.2 433.8,461.9" fill="#fff" stroke="#4a9794" stroke-width="1.3"/>
<polygon points="438.8,456.3 443.3,459.6 441.6,465.0 436.0,465.0 434.2,459.6" fill="#fff" stroke="#4a9794" stroke-width="1.3"/>
<polygon points="439.2,454.1 443.8,457.4 442.0,462.8 436.4,462.8 434.7,457.4" fill="#fff" stroke="#4a9794" stroke-width="1.3"/>
<polygon points="439.7,451.9 444.2,455.2 442.5,460.5 436.8,460.5 435.1,455.2" fill="#fff" stroke="#4a9794" stroke-width="1.3"/>
<polygon points="440.1,449.6 444.7,453.0 442.9,458.3 437.3,458.3 435.5,453.0" fill="#fff" stroke="#4a9794" stroke-width="1.3"/>
<polygon points="440.6,447.4 445.1,450.7 443.4,456.1 437.7,456.1 436.0,450.7" fill="#fff" stroke="#4a9794" stroke-width="1.3"/>
<polygon points="441.0,445.2 445.6,448.5 443.8,453.9 438.2,453.9 436.4,448.5" fill="#fff" stroke="#4a9794" stroke-width="1.3"/>
<polygon points="442.5,443.4 447.1,446.8 445.3,452.1 439.7,452.1 437.9,446.8" fill="#fff" stroke="#4a9794" stroke-width="1.3"/>
<polygon points="444.0,441.7 448.6,445.0 446.8,450.4 441.2,450.4 439.4,445.0" fill="#fff" stroke="#4a9794" stroke-width="1.3"/>
<polygon points="445.5,439.9 450.1,443.3 448.3,448.6 442.7,448.6 440.9,443.3" fill="#fff" stroke="#4a9794" stroke-width="1.3"/>
<polygon points="447.0,438.2 451.6,441.5 449.8,446.9 444.2,446.9 442.4,441.5" fill="#fff" stroke="#4a9794" stroke-width="1.3"/>
<polygon points="448.7,440.5 453.2,443.9 451.5,449.2 445.8,449.2 444.1,443.9" fill="#fff" stroke="#4a9794" stroke-width="1.3"/>
<polygon points="450.3,442.9 454.9,446.2 453.2,451.5 447.5,451.5 445.8,446.2" fill="#fff" stroke="#4a9794" stroke-width="1.3"/>
<polygon points="452.0,445.2 456.6,448.5 454.8,453.9 449.2,453.9 447.4,448.5" fill="#fff" stroke="#4a9794" stroke-width="1.3"/>
<polygon points="452.3,447.4 456.9,450.7 455.2,456.1 449.5,456.1 447.8,450.7" fill="#fff" stroke="#4a9794" stroke-width="1.3"/>
<polygon points="452.7,449.6 457.2,453.0 455.5,458.3 449.8,458.3 448.1,453.0" fill="#fff" stroke="#4a9794" stroke-width="1.3"/>
<polygon points="453.0,451.9 457.6,455.2 455.8,460.5 450.2,460.5 448.4,455.2" fill="#fff" stroke="#4a9794" stroke-width="1.3"/>
<polygon points="453.3,454.1 457.9,457.4 456.2,462.8 450.5,462.8 448.8,457.4" fill="#fff" stroke="#4a9794" stroke-width="1.3"/>
<polygon points="453.7,456.3 458.2,459.6 456.5,465.0 450.8,465.0 449.1,459.6" fill="#fff" stroke="#4a9794" stroke-width="1.3"/>
<polygon points="454.0,458.5 458.6,461.9 456.8,467.2 451.2,467.2 449.4,461.9" fill="#fff" stroke="#4a9794" stroke-width="1.3"/>
<polygon points="454.3,460.8 458.9,464.1 457.2,469.4 451.5,469.4 449.8,464.1" fill="#fff" stroke="#4a9794" stroke-width="1.3"/>
<polygon points="454.7,463.0 459.2,466.3 457.5,471.7 451.8,471.7 450.1,466.3" fill="#fff" stroke="#4a9794" stroke-width="1.3"/>
<polygon points="455.0,465.2 459.6,468.5 457.8,473.9 452.2,473.9 450.4,468.5" fill="#fff" stroke="#4a9794" stroke-width="1.3"/>
<polygon points="455.1,467.5 459.6,470.9 457.9,476.2 452.2,476.2 450.5,470.9" fill="#fff" stroke="#4a9794" stroke-width="1.3"/>
<polygon points="455.1,469.9 459.7,473.2 458.0,478.5 452.3,478.5 450.6,473.2" fill="#fff" stroke="#4a9794" stroke-width="1.3"/>
<polygon points="455.2,472.2 459.8,475.5 458.0,480.9 452.4,480.9 450.6,475.5" fill="#fff" stroke="#4a9794" stroke-width="1.3"/>
<polygon points="455.3,474.5 459.8,477.9 458.1,483.2 452.4,483.2 450.7,477.9" fill="#fff" stroke="#4a9794" stroke-width="1.3"/>
<polygon points="455.3,476.9 459.9,480.2 458.2,485.5 452.5,485.5 450.8,480.2" fill="#fff" stroke="#4a9794" stroke-width="1.3"/>
<polygon points="455.4,479.2 460.0,482.5 458.2,487.9 452.6,487.9 450.8,482.5" fill="#fff" stroke="#4a9794" stroke-width="1.3"/>
<polygon points="455.5,481.5 460.0,484.9 458.3,490.2 452.6,490.2 450.9,484.9" fill="#fff" stroke="#4a9794" stroke-width="1.3"/>
<polygon points="455.5,483.9 460.1,487.2 458.4,492.5 452.7,492.5 451.0,487.2" fill="#fff" stroke="#4a9794" stroke-width="1.3"/>
<polygon points="455.6,486.2 460.2,489.5 458.4,494.9 452.8,494.9 451.0,489.5" fill="#fff" stroke="#4a9794" stroke-width="1.3"/>
<polygon points="455.7,488.5 460.2,491.9 458.5,497.2 452.8,497.2 451.1,491.9" fill="#fff" stroke="#4a9794" stroke-width="1.3"/>
<polygon points="455.7,490.9 460.3,494.2 458.6,499.5 452.9,499.5 451.2,494.2" fill="#fff" stroke="#4a9794" stroke-width="1.3"/>
<polygon points="455.8,493.2 460.4,496.5 458.6,501.9 453.0,501.9 451.2,496.5" fill="#fff" stroke="#4a9794" stroke-width="1.3"/>
<polygon points="455.9,495.5 460.4,498.9 458.7,504.2 453.0,504.2 451.3,498.9" fill="#fff" stroke="#4a9794" stroke-width="1.3"/>
<polygon points="455.9,497.9 460.5,501.2 458.8,506.5 453.1,506.5 451.4,501.2" fill="#fff" stroke="#4a9794" stroke-width="1.3"/>
<polygon points="456.0,500.2 460.6,503.5 458.8,508.9 453.2,508.9 451.4,503.5" fill="#fff" stroke="#4a9794" stroke-width="1.3"/>
<circle cx="384.9" cy="325.0" r="4.7" fill="url(#gt)"/>
<circle cx="389.0" cy="327.6" r="4.7" fill="url(#gt)"/>
<circle cx="393.2" cy="330.2" r="4.7" fill="url(#gt)"/>
<circle cx="396.4" cy="334.0" r="4.7" fill="url(#gt)"/>
<circle cx="399.6" cy="337.8" r="4.7" fill="url(#gt)"/>
<circle cx="401.8" cy="340.5" r="4.7" fill="url(#gt)"/>
<circle cx="403.9" cy="343.3" r="4.7" fill="url(#gt)"/>
<circle cx="406.1" cy="346.0" r="4.7" fill="url(#gt)"/>
<circle cx="408.9" cy="349.6" r="4.7" fill="url(#gt)"/>
<circle cx="411.6" cy="353.2" r="4.7" fill="url(#gt)"/>
<circle cx="414.3" cy="356.3" r="4.7" fill="url(#gt)"/>
<circle cx="417.0" cy="359.4" r="4.7" fill="url(#gt)"/>
<circle cx="421.0" cy="363.5" r="4.7" fill="url(#gt)"/>
<circle cx="424.5" cy="367.0" r="4.7" fill="url(#gt)"/>
<circle cx="426.7" cy="370.4" r="4.7" fill="url(#gt)"/>
<circle cx="404.0" cy="349.0" r="4.7" fill="url(#gt)"/>
<circle cx="406.0" cy="352.5" r="4.7" fill="url(#gt)"/>
<circle cx="408.0" cy="356.0" r="4.7" fill="url(#gt)"/>
<circle cx="410.5" cy="359.0" r="4.7" fill="url(#gt)"/>
<circle cx="413.0" cy="362.0" r="4.7" fill="url(#gt)"/>
<circle cx="415.5" cy="364.8" r="4.7" fill="url(#gt)"/>
<circle cx="418.0" cy="367.5" r="4.7" fill="url(#gt)"/>
<circle cx="421.6" cy="373.0" r="4.7" fill="url(#gt)"/>
<circle cx="422.9" cy="384.6" r="4.6" fill="url(#gt)"/>
<circle cx="430.0" cy="391.7" r="4.6" fill="url(#gt)"/>
<circle cx="433.8" cy="378.8" r="4.4" fill="url(#gt)"/>
<circle cx="437.7" cy="382.7" r="4.4" fill="url(#gt)"/>
<circle cx="440.9" cy="386.5" r="4.4" fill="url(#gt)"/>
<circle cx="444.1" cy="390.4" r="4.4" fill="url(#gt)"/>
<circle cx="447.3" cy="394.9" r="4.4" fill="url(#gt)"/>
<circle cx="449.9" cy="400.0" r="4.4" fill="url(#gt)"/>
<circle cx="452.5" cy="403.9" r="4.4" fill="url(#gt)"/>
<circle cx="437.0" cy="387.0" r="4.4" fill="url(#gt)"/>
<circle cx="441.0" cy="391.0" r="4.4" fill="url(#gt)"/>
<circle cx="444.5" cy="396.0" r="4.4" fill="url(#gt)"/>
<polygon points="470.0,500.0 471.5,478.0 475.0,465.0 482.0,458.0 492.0,456.0 503.0,455.0 504.0,500.0" fill="#cdcdcd" />
<circle cx="398.0" cy="505.0" r="4.6" fill="#fff" fill-opacity="0.75" stroke="#ff1f1f" stroke-width="1.2"/>
<circle cx="398.1" cy="503.1" r="4.6" fill="#fff" fill-opacity="0.75" stroke="#ff1f1f" stroke-width="1.2"/>
<circle cx="398.1" cy="501.1" r="4.6" fill="#fff" fill-opacity="0.75" stroke="#ff1f1f" stroke-width="1.2"/>
<circle cx="398.2" cy="499.2" r="4.6" fill="#fff" fill-opacity="0.75" stroke="#ff1f1f" stroke-width="1.2"/>
<circle cx="398.3" cy="497.3" r="4.6" fill="#fff" fill-opacity="0.75" stroke="#ff1f1f" stroke-width="1.2"/>
<circle cx="398.4" cy="495.3" r="4.6" fill="#fff" fill-opacity="0.75" stroke="#ff1f1f" stroke-width="1.2"/>
<circle cx="398.5" cy="493.4" r="4.6" fill="#fff" fill-opacity="0.75" stroke="#ff1f1f" stroke-width="1.2"/>
<circle cx="398.5" cy="491.5" r="4.6" fill="#fff" fill-opacity="0.75" stroke="#ff1f1f" stroke-width="1.2"/>
<circle cx="398.6" cy="489.6" r="4.6" fill="#fff" fill-opacity="0.75" stroke="#ff1f1f" stroke-width="1.2"/>
<circle cx="398.8" cy="487.6" r="4.6" fill="#fff" fill-opacity="0.75" stroke="#ff1f1f" stroke-width="1.2"/>
<circle cx="399.0" cy="485.7" r="4.6" fill="#fff" fill-opacity="0.75" stroke="#ff1f1f" stroke-width="1.2"/>
<circle cx="399.2" cy="483.8" r="4.6" fill="#fff" fill-opacity="0.75" stroke="#ff1f1f" stroke-width="1.2"/>
<circle cx="399.5" cy="481.8" r="4.6" fill="#fff" fill-opacity="0.75" stroke="#ff1f1f" stroke-width="1.2"/>
<circle cx="399.8" cy="479.8" r="4.6" fill="#fff" fill-opacity="0.75" stroke="#ff1f1f" stroke-width="1.2"/>
<circle cx="400.1" cy="478.4" r="4.6" fill="#fff" fill-opacity="0.75" stroke="#ff1f1f" stroke-width="1.2"/>
<circle cx="400.4" cy="476.9" r="4.6" fill="#fff" fill-opacity="0.75" stroke="#ff1f1f" stroke-width="1.2"/>
<circle cx="400.7" cy="475.8" r="4.6" fill="#fff" fill-opacity="0.75" stroke="#ff1f1f" stroke-width="1.2"/>
<circle cx="401.0" cy="474.7" r="4.6" fill="#fff" fill-opacity="0.75" stroke="#ff1f1f" stroke-width="1.2"/>
<circle cx="401.6" cy="473.1" r="4.6" fill="#fff" fill-opacity="0.75" stroke="#ff1f1f" stroke-width="1.2"/>
<circle cx="402.2" cy="472.0" r="4.6" fill="#fff" fill-opacity="0.75" stroke="#ff1f1f" stroke-width="1.2"/>
<circle cx="402.8" cy="471.3" r="4.6" fill="#fff" fill-opacity="0.75" stroke="#ff1f1f" stroke-width="1.2"/>
<circle cx="403.4" cy="471.0" r="4.6" fill="#fff" fill-opacity="0.75" stroke="#ff1f1f" stroke-width="1.2"/>
<circle cx="404.0" cy="471.1" r="4.6" fill="#fff" fill-opacity="0.75" stroke="#ff1f1f" stroke-width="1.2"/>
<circle cx="404.6" cy="471.7" r="4.6" fill="#fff" fill-opacity="0.75" stroke="#ff1f1f" stroke-width="1.2"/>
<circle cx="405.2" cy="472.7" r="4.6" fill="#fff" fill-opacity="0.75" stroke="#ff1f1f" stroke-width="1.2"/>
<circle cx="405.8" cy="474.1" r="4.6" fill="#fff" fill-opacity="0.75" stroke="#ff1f1f" stroke-width="1.2"/>
<circle cx="406.4" cy="476.1" r="4.6" fill="#fff" fill-opacity="0.75" stroke="#ff1f1f" stroke-width="1.2"/>
<circle cx="406.7" cy="477.4" r="4.6" fill="#fff" fill-opacity="0.75" stroke="#ff1f1f" stroke-width="1.2"/>
<circle cx="407.0" cy="478.8" r="4.6" fill="#fff" fill-opacity="0.75" stroke="#ff1f1f" stroke-width="1.2"/>
<circle cx="407.3" cy="480.6" r="4.6" fill="#fff" fill-opacity="0.75" stroke="#ff1f1f" stroke-width="1.2"/>
<circle cx="407.6" cy="482.3" r="4.6" fill="#fff" fill-opacity="0.75" stroke="#ff1f1f" stroke-width="1.2"/>
<circle cx="407.8" cy="484.0" r="4.6" fill="#fff" fill-opacity="0.75" stroke="#ff1f1f" stroke-width="1.2"/>
<circle cx="408.0" cy="485.7" r="4.6" fill="#fff" fill-opacity="0.75" stroke="#ff1f1f" stroke-width="1.2"/>
<circle cx="408.2" cy="487.3" r="4.6" fill="#fff" fill-opacity="0.75" stroke="#ff1f1f" stroke-width="1.2"/>
<circle cx="408.3" cy="489.1" r="4.6" fill="#fff" fill-opacity="0.75" stroke="#ff1f1f" stroke-width="1.2"/>
<circle cx="408.4" cy="490.8" r="4.6" fill="#fff" fill-opacity="0.75" stroke="#ff1f1f" stroke-width="1.2"/>
<circle cx="408.6" cy="492.5" r="4.6" fill="#fff" fill-opacity="0.75" stroke="#ff1f1f" stroke-width="1.2"/>
<circle cx="408.7" cy="494.2" r="4.6" fill="#fff" fill-opacity="0.75" stroke="#ff1f1f" stroke-width="1.2"/>
<circle cx="408.8" cy="495.9" r="4.6" fill="#fff" fill-opacity="0.75" stroke="#ff1f1f" stroke-width="1.2"/>
<circle cx="406.0" cy="505.0" r="4.8" fill="#fff" fill-opacity="0.75" stroke="#ff1f1f" stroke-width="1.5"/>
<circle cx="406.3" cy="497.6" r="4.8" fill="#fff" fill-opacity="0.75" stroke="#ff1f1f" stroke-width="1.5"/>
<circle cx="406.6" cy="490.3" r="4.8" fill="#fff" fill-opacity="0.75" stroke="#ff1f1f" stroke-width="1.5"/>
<circle cx="406.9" cy="482.9" r="4.8" fill="#fff" fill-opacity="0.75" stroke="#ff1f1f" stroke-width="1.5"/>
<circle cx="407.2" cy="475.5" r="4.8" fill="#fff" fill-opacity="0.75" stroke="#ff1f1f" stroke-width="1.5"/>
<circle cx="407.8" cy="469.6" r="4.8" fill="#fff" fill-opacity="0.75" stroke="#ff1f1f" stroke-width="1.5"/>
<circle cx="408.4" cy="463.7" r="4.8" fill="#fff" fill-opacity="0.75" stroke="#ff1f1f" stroke-width="1.5"/>
<circle cx="409.6" cy="455.0" r="4.8" fill="#fff" fill-opacity="0.75" stroke="#ff1f1f" stroke-width="1.5"/>
<circle cx="410.8" cy="447.8" r="4.8" fill="#fff" fill-opacity="0.75" stroke="#ff1f1f" stroke-width="1.5"/>
<circle cx="412.0" cy="441.7" r="4.8" fill="#fff" fill-opacity="0.75" stroke="#ff1f1f" stroke-width="1.5"/>
<circle cx="413.2" cy="436.4" r="4.8" fill="#fff" fill-opacity="0.75" stroke="#ff1f1f" stroke-width="1.5"/>
<circle cx="414.4" cy="431.8" r="4.8" fill="#fff" fill-opacity="0.75" stroke="#ff1f1f" stroke-width="1.5"/>
<circle cx="415.6" cy="427.6" r="4.8" fill="#fff" fill-opacity="0.75" stroke="#ff1f1f" stroke-width="1.5"/>
<circle cx="416.8" cy="423.8" r="4.8" fill="#fff" fill-opacity="0.75" stroke="#ff1f1f" stroke-width="1.5"/>
<circle cx="418.0" cy="420.5" r="4.8" fill="#fff" fill-opacity="0.75" stroke="#ff1f1f" stroke-width="1.5"/>
<circle cx="419.2" cy="417.4" r="4.8" fill="#fff" fill-opacity="0.75" stroke="#ff1f1f" stroke-width="1.5"/>
<circle cx="420.4" cy="414.6" r="4.8" fill="#fff" fill-opacity="0.75" stroke="#ff1f1f" stroke-width="1.5"/>
<circle cx="421.6" cy="412.1" r="4.8" fill="#fff" fill-opacity="0.75" stroke="#ff1f1f" stroke-width="1.5"/>
<circle cx="422.8" cy="409.9" r="4.8" fill="#fff" fill-opacity="0.75" stroke="#ff1f1f" stroke-width="1.5"/>
<circle cx="424.0" cy="407.9" r="4.8" fill="#fff" fill-opacity="0.75" stroke="#ff1f1f" stroke-width="1.5"/>
<circle cx="425.2" cy="406.1" r="4.8" fill="#fff" fill-opacity="0.75" stroke="#ff1f1f" stroke-width="1.5"/>
<circle cx="426.4" cy="404.4" r="4.8" fill="#fff" fill-opacity="0.75" stroke="#ff1f1f" stroke-width="1.5"/>
<circle cx="427.6" cy="403.0" r="4.8" fill="#fff" fill-opacity="0.75" stroke="#ff1f1f" stroke-width="1.5"/>
<circle cx="428.8" cy="401.8" r="4.8" fill="#fff" fill-opacity="0.75" stroke="#ff1f1f" stroke-width="1.5"/>
<circle cx="430.0" cy="400.8" r="4.8" fill="#fff" fill-opacity="0.75" stroke="#ff1f1f" stroke-width="1.5"/>
<circle cx="431.2" cy="399.9" r="4.8" fill="#fff" fill-opacity="0.75" stroke="#ff1f1f" stroke-width="1.5"/>
<circle cx="432.4" cy="399.2" r="4.8" fill="#fff" fill-opacity="0.75" stroke="#ff1f1f" stroke-width="1.5"/>
<circle cx="433.6" cy="398.6" r="4.8" fill="#fff" fill-opacity="0.75" stroke="#ff1f1f" stroke-width="1.5"/>
<circle cx="434.8" cy="398.3" r="4.8" fill="#fff" fill-opacity="0.75" stroke="#ff1f1f" stroke-width="1.5"/>
<circle cx="436.0" cy="398.1" r="4.8" fill="#fff" fill-opacity="0.75" stroke="#ff1f1f" stroke-width="1.5"/>
<circle cx="437.2" cy="398.0" r="4.8" fill="#fff" fill-opacity="0.75" stroke="#ff1f1f" stroke-width="1.5"/>
<circle cx="438.4" cy="398.5" r="4.8" fill="#fff" fill-opacity="0.75" stroke="#ff1f1f" stroke-width="1.5"/>
<circle cx="439.6" cy="399.2" r="4.8" fill="#fff" fill-opacity="0.75" stroke="#ff1f1f" stroke-width="1.5"/>
<circle cx="440.8" cy="400.3" r="4.8" fill="#fff" fill-opacity="0.75" stroke="#ff1f1f" stroke-width="1.5"/>
<circle cx="442.0" cy="401.6" r="4.8" fill="#fff" fill-opacity="0.75" stroke="#ff1f1f" stroke-width="1.5"/>
<circle cx="443.2" cy="403.0" r="4.8" fill="#fff" fill-opacity="0.75" stroke="#ff1f1f" stroke-width="1.5"/>
<circle cx="444.4" cy="404.7" r="4.8" fill="#fff" fill-opacity="0.75" stroke="#ff1f1f" stroke-width="1.5"/>
<circle cx="445.6" cy="406.5" r="4.8" fill="#fff" fill-opacity="0.75" stroke="#ff1f1f" stroke-width="1.5"/>
<circle cx="446.8" cy="408.4" r="4.8" fill="#fff" fill-opacity="0.75" stroke="#ff1f1f" stroke-width="1.5"/>
<circle cx="448.0" cy="410.5" r="4.8" fill="#fff" fill-opacity="0.75" stroke="#ff1f1f" stroke-width="1.5"/>
<circle cx="449.2" cy="412.8" r="4.8" fill="#fff" fill-opacity="0.75" stroke="#ff1f1f" stroke-width="1.5"/>
<circle cx="450.4" cy="415.2" r="4.8" fill="#fff" fill-opacity="0.75" stroke="#ff1f1f" stroke-width="1.5"/>
<circle cx="451.6" cy="417.7" r="4.8" fill="#fff" fill-opacity="0.75" stroke="#ff1f1f" stroke-width="1.5"/>
<circle cx="452.8" cy="420.4" r="4.8" fill="#fff" fill-opacity="0.75" stroke="#ff1f1f" stroke-width="1.5"/>
<circle cx="454.0" cy="423.2" r="4.8" fill="#fff" fill-opacity="0.75" stroke="#ff1f1f" stroke-width="1.5"/>
<circle cx="455.2" cy="426.1" r="4.8" fill="#fff" fill-opacity="0.75" stroke="#ff1f1f" stroke-width="1.5"/>
<circle cx="456.4" cy="429.1" r="4.8" fill="#fff" fill-opacity="0.75" stroke="#ff1f1f" stroke-width="1.5"/>
<circle cx="457.6" cy="432.2" r="4.8" fill="#fff" fill-opacity="0.75" stroke="#ff1f1f" stroke-width="1.5"/>
<circle cx="458.8" cy="435.5" r="4.8" fill="#fff" fill-opacity="0.75" stroke="#ff1f1f" stroke-width="1.5"/>
<circle cx="460.0" cy="438.8" r="4.8" fill="#fff" fill-opacity="0.75" stroke="#ff1f1f" stroke-width="1.5"/>
<circle cx="461.2" cy="442.3" r="4.8" fill="#fff" fill-opacity="0.75" stroke="#ff1f1f" stroke-width="1.5"/>
<circle cx="462.4" cy="445.9" r="4.8" fill="#fff" fill-opacity="0.75" stroke="#ff1f1f" stroke-width="1.5"/>
<circle cx="463.6" cy="449.5" r="4.8" fill="#fff" fill-opacity="0.75" stroke="#ff1f1f" stroke-width="1.5"/>
<circle cx="464.8" cy="453.3" r="4.8" fill="#fff" fill-opacity="0.75" stroke="#ff1f1f" stroke-width="1.5"/>
<circle cx="466.0" cy="457.2" r="4.8" fill="#fff" fill-opacity="0.75" stroke="#ff1f1f" stroke-width="1.5"/>
<circle cx="467.2" cy="461.1" r="4.8" fill="#fff" fill-opacity="0.75" stroke="#ff1f1f" stroke-width="1.5"/>
<circle cx="468.4" cy="465.2" r="4.8" fill="#fff" fill-opacity="0.75" stroke="#ff1f1f" stroke-width="1.5"/>
<circle cx="469.6" cy="469.3" r="4.8" fill="#fff" fill-opacity="0.75" stroke="#ff1f1f" stroke-width="1.5"/>
<circle cx="470.8" cy="473.6" r="4.8" fill="#fff" fill-opacity="0.75" stroke="#ff1f1f" stroke-width="1.5"/>
<circle cx="472.0" cy="477.9" r="4.8" fill="#fff" fill-opacity="0.75" stroke="#ff1f1f" stroke-width="1.5"/>
<circle cx="473.2" cy="482.4" r="4.8" fill="#fff" fill-opacity="0.75" stroke="#ff1f1f" stroke-width="1.5"/>
<circle cx="474.4" cy="486.9" r="4.8" fill="#fff" fill-opacity="0.75" stroke="#ff1f1f" stroke-width="1.5"/>
<circle cx="475.6" cy="491.5" r="4.8" fill="#fff" fill-opacity="0.75" stroke="#ff1f1f" stroke-width="1.5"/>
<circle cx="476.8" cy="496.2" r="4.8" fill="#fff" fill-opacity="0.75" stroke="#ff1f1f" stroke-width="1.5"/>
<circle cx="478.0" cy="501.0" r="4.8" fill="#fff" fill-opacity="0.75" stroke="#ff1f1f" stroke-width="1.5"/>
<polygon points="418.0,499.9 422.9,503.4 421.0,509.1 415.0,509.1 413.1,503.4" fill="#fff" fill-opacity="0.55" stroke="#ff1f1f" stroke-width="1.5"/>
<polygon points="418.4,491.7 423.3,495.2 421.4,500.9 415.4,500.9 413.6,495.2" fill="#fff" fill-opacity="0.55" stroke="#ff1f1f" stroke-width="1.5"/>
<polygon points="418.9,483.4 423.7,486.9 421.9,492.6 415.9,492.6 414.0,486.9" fill="#fff" fill-opacity="0.55" stroke="#ff1f1f" stroke-width="1.5"/>
<polygon points="419.3,475.2 424.1,478.7 422.3,484.4 416.3,484.4 414.4,478.7" fill="#fff" fill-opacity="0.55" stroke="#ff1f1f" stroke-width="1.5"/>
<polygon points="419.7,466.9 424.6,470.4 422.7,476.2 416.7,476.2 414.9,470.4" fill="#fff" fill-opacity="0.55" stroke="#ff1f1f" stroke-width="1.5"/>
<polygon points="420.1,458.7 425.0,462.2 423.1,467.9 417.1,467.9 415.3,462.2" fill="#fff" fill-opacity="0.55" stroke="#ff1f1f" stroke-width="1.5"/>
<polygon points="420.6,450.4 425.4,454.0 423.6,459.7 417.6,459.7 415.7,454.0" fill="#fff" fill-opacity="0.55" stroke="#ff1f1f" stroke-width="1.5"/>
<polygon points="421.0,442.2 425.9,445.7 424.0,451.4 418.0,451.4 416.1,445.7" fill="#fff" fill-opacity="0.55" stroke="#ff1f1f" stroke-width="1.5"/>
<polygon points="422.0,435.4 426.9,438.9 425.0,444.6 419.0,444.6 417.1,438.9" fill="#fff" fill-opacity="0.55" stroke="#ff1f1f" stroke-width="1.5"/>
<polygon points="423.0,428.6 427.9,432.2 426.0,437.9 420.0,437.9 418.1,432.2" fill="#fff" fill-opacity="0.55" stroke="#ff1f1f" stroke-width="1.5"/>
<polygon points="424.0,421.9 428.9,425.4 427.0,431.1 421.0,431.1 419.1,425.4" fill="#fff" fill-opacity="0.55" stroke="#ff1f1f" stroke-width="1.5"/>
<polygon points="425.5,415.4 430.4,418.9 428.5,424.6 422.5,424.6 420.6,418.9" fill="#fff" fill-opacity="0.55" stroke="#ff1f1f" stroke-width="1.5"/>
<polygon points="427.0,408.9 431.9,412.4 430.0,418.1 424.0,418.1 422.1,412.4" fill="#fff" fill-opacity="0.55" stroke="#ff1f1f" stroke-width="1.5"/>
<polygon points="430.0,400.4 434.9,404.0 433.0,409.7 427.0,409.7 425.1,404.0" fill="#fff" fill-opacity="0.55" stroke="#ff1f1f" stroke-width="1.5"/>
<polygon points="433.0,395.3 437.9,398.8 436.0,404.5 430.0,404.5 428.1,398.8" fill="#fff" fill-opacity="0.55" stroke="#ff1f1f" stroke-width="1.5"/>
<polygon points="436.0,393.0 440.9,396.6 439.0,402.3 433.0,402.3 431.1,396.6" fill="#fff" fill-opacity="0.55" stroke="#ff1f1f" stroke-width="1.5"/>
<polygon points="439.0,395.1 443.9,398.6 442.0,404.3 436.0,404.3 434.1,398.6" fill="#fff" fill-opacity="0.55" stroke="#ff1f1f" stroke-width="1.5"/>
<polygon points="440.5,401.1 445.4,404.7 443.5,410.4 437.5,410.4 435.6,404.7" fill="#fff" fill-opacity="0.55" stroke="#ff1f1f" stroke-width="1.5"/>
<polygon points="442.0,407.2 446.9,410.8 445.0,416.5 439.0,416.5 437.1,410.8" fill="#fff" fill-opacity="0.55" stroke="#ff1f1f" stroke-width="1.5"/>
<polygon points="443.0,416.7 447.9,420.2 446.0,425.9 440.0,425.9 438.1,420.2" fill="#fff" fill-opacity="0.55" stroke="#ff1f1f" stroke-width="1.5"/>
<polygon points="444.0,426.2 448.9,429.7 447.0,435.4 441.0,435.4 439.1,429.7" fill="#fff" fill-opacity="0.55" stroke="#ff1f1f" stroke-width="1.5"/>
<polygon points="445.0,435.7 449.9,439.2 448.0,444.9 442.0,444.9 440.1,439.2" fill="#fff" fill-opacity="0.55" stroke="#ff1f1f" stroke-width="1.5"/>
<circle cx="421.0" cy="426.4" r="4.6" fill="#fff" fill-opacity="0.75" stroke="#ff1f1f" stroke-width="1.2"/>
<circle cx="421.5" cy="424.8" r="4.6" fill="#fff" fill-opacity="0.75" stroke="#ff1f1f" stroke-width="1.2"/>
<circle cx="422.0" cy="423.4" r="4.6" fill="#fff" fill-opacity="0.75" stroke="#ff1f1f" stroke-width="1.2"/>
<circle cx="422.5" cy="422.3" r="4.6" fill="#fff" fill-opacity="0.75" stroke="#ff1f1f" stroke-width="1.2"/>
<circle cx="423.0" cy="421.2" r="4.6" fill="#fff" fill-opacity="0.75" stroke="#ff1f1f" stroke-width="1.2"/>
<circle cx="423.5" cy="420.4" r="4.6" fill="#fff" fill-opacity="0.75" stroke="#ff1f1f" stroke-width="1.2"/>
<circle cx="424.0" cy="419.7" r="4.6" fill="#fff" fill-opacity="0.75" stroke="#ff1f1f" stroke-width="1.2"/>
<circle cx="424.5" cy="419.2" r="4.6" fill="#fff" fill-opacity="0.75" stroke="#ff1f1f" stroke-width="1.2"/>
<circle cx="425.0" cy="418.8" r="4.6" fill="#fff" fill-opacity="0.75" stroke="#ff1f1f" stroke-width="1.2"/>
<circle cx="425.5" cy="418.6" r="4.6" fill="#fff" fill-opacity="0.75" stroke="#ff1f1f" stroke-width="1.2"/>
<circle cx="426.0" cy="418.5" r="4.6" fill="#fff" fill-opacity="0.75" stroke="#ff1f1f" stroke-width="1.2"/>
<circle cx="426.5" cy="418.6" r="4.6" fill="#fff" fill-opacity="0.75" stroke="#ff1f1f" stroke-width="1.2"/>
<circle cx="427.0" cy="418.9" r="4.6" fill="#fff" fill-opacity="0.75" stroke="#ff1f1f" stroke-width="1.2"/>
<circle cx="427.5" cy="419.3" r="4.6" fill="#fff" fill-opacity="0.75" stroke="#ff1f1f" stroke-width="1.2"/>
<circle cx="428.0" cy="419.9" r="4.6" fill="#fff" fill-opacity="0.75" stroke="#ff1f1f" stroke-width="1.2"/>
<circle cx="428.5" cy="420.8" r="4.6" fill="#fff" fill-opacity="0.75" stroke="#ff1f1f" stroke-width="1.2"/>
<circle cx="429.0" cy="421.8" r="4.6" fill="#fff" fill-opacity="0.75" stroke="#ff1f1f" stroke-width="1.2"/>
<circle cx="429.5" cy="423.0" r="4.6" fill="#fff" fill-opacity="0.75" stroke="#ff1f1f" stroke-width="1.2"/>
<circle cx="430.0" cy="424.4" r="4.6" fill="#fff" fill-opacity="0.75" stroke="#ff1f1f" stroke-width="1.2"/>
<circle cx="430.5" cy="426.1" r="4.6" fill="#fff" fill-opacity="0.75" stroke="#ff1f1f" stroke-width="1.2"/>
<circle cx="431.0" cy="428.0" r="4.6" fill="#fff" fill-opacity="0.75" stroke="#ff1f1f" stroke-width="1.2"/>
<circle cx="431.2" cy="429.0" r="4.6" fill="#fff" fill-opacity="0.75" stroke="#ff1f1f" stroke-width="1.2"/>
<circle cx="431.5" cy="430.1" r="4.6" fill="#fff" fill-opacity="0.75" stroke="#ff1f1f" stroke-width="1.2"/>
<circle cx="431.8" cy="431.3" r="4.6" fill="#fff" fill-opacity="0.75" stroke="#ff1f1f" stroke-width="1.2"/>
<circle cx="432.0" cy="432.5" r="4.6" fill="#fff" fill-opacity="0.75" stroke="#ff1f1f" stroke-width="1.2"/>
<circle cx="432.2" cy="433.9" r="4.6" fill="#fff" fill-opacity="0.75" stroke="#ff1f1f" stroke-width="1.2"/>
<circle cx="432.5" cy="435.2" r="4.6" fill="#fff" fill-opacity="0.75" stroke="#ff1f1f" stroke-width="1.2"/>
<circle cx="432.8" cy="436.7" r="4.6" fill="#fff" fill-opacity="0.75" stroke="#ff1f1f" stroke-width="1.2"/>
<circle cx="433.0" cy="438.3" r="4.6" fill="#fff" fill-opacity="0.75" stroke="#ff1f1f" stroke-width="1.2"/>
<circle cx="433.2" cy="440.0" r="4.6" fill="#fff" fill-opacity="0.75" stroke="#ff1f1f" stroke-width="1.2"/>
<circle cx="433.5" cy="441.7" r="4.6" fill="#fff" fill-opacity="0.75" stroke="#ff1f1f" stroke-width="1.2"/>
<circle cx="433.8" cy="443.7" r="4.6" fill="#fff" fill-opacity="0.75" stroke="#ff1f1f" stroke-width="1.2"/>
<circle cx="434.0" cy="445.6" r="4.6" fill="#fff" fill-opacity="0.75" stroke="#ff1f1f" stroke-width="1.2"/>
<circle cx="434.2" cy="447.1" r="4.6" fill="#fff" fill-opacity="0.75" stroke="#ff1f1f" stroke-width="1.2"/>
<circle cx="434.3" cy="448.6" r="4.6" fill="#fff" fill-opacity="0.75" stroke="#ff1f1f" stroke-width="1.2"/>
<circle cx="434.5" cy="450.1" r="4.6" fill="#fff" fill-opacity="0.75" stroke="#ff1f1f" stroke-width="1.2"/>
<circle cx="434.7" cy="451.8" r="4.6" fill="#fff" fill-opacity="0.75" stroke="#ff1f1f" stroke-width="1.2"/>
<circle cx="434.8" cy="453.5" r="4.6" fill="#fff" fill-opacity="0.75" stroke="#ff1f1f" stroke-width="1.2"/>
<circle cx="435.0" cy="455.3" r="4.6" fill="#fff" fill-opacity="0.75" stroke="#ff1f1f" stroke-width="1.2"/>
<circle cx="435.2" cy="457.3" r="4.6" fill="#fff" fill-opacity="0.75" stroke="#ff1f1f" stroke-width="1.2"/>
<circle cx="435.3" cy="459.4" r="4.6" fill="#fff" fill-opacity="0.75" stroke="#ff1f1f" stroke-width="1.2"/>
<circle cx="435.5" cy="461.4" r="4.6" fill="#fff" fill-opacity="0.75" stroke="#ff1f1f" stroke-width="1.2"/>
<circle cx="435.6" cy="463.3" r="4.6" fill="#fff" fill-opacity="0.75" stroke="#ff1f1f" stroke-width="1.2"/>
<circle cx="435.8" cy="465.2" r="4.6" fill="#fff" fill-opacity="0.75" stroke="#ff1f1f" stroke-width="1.2"/>
<circle cx="435.9" cy="467.1" r="4.6" fill="#fff" fill-opacity="0.75" stroke="#ff1f1f" stroke-width="1.2"/>
<circle cx="436.0" cy="469.0" r="4.6" fill="#fff" fill-opacity="0.75" stroke="#ff1f1f" stroke-width="1.2"/>
<circle cx="436.1" cy="471.0" r="4.6" fill="#fff" fill-opacity="0.75" stroke="#ff1f1f" stroke-width="1.2"/>
<circle cx="436.2" cy="473.1" r="4.6" fill="#fff" fill-opacity="0.75" stroke="#ff1f1f" stroke-width="1.2"/>
<circle cx="436.3" cy="475.1" r="4.6" fill="#fff" fill-opacity="0.75" stroke="#ff1f1f" stroke-width="1.2"/>
<circle cx="436.4" cy="477.2" r="4.6" fill="#fff" fill-opacity="0.75" stroke="#ff1f1f" stroke-width="1.2"/>
<circle cx="436.5" cy="479.2" r="4.6" fill="#fff" fill-opacity="0.75" stroke="#ff1f1f" stroke-width="1.2"/>
<circle cx="436.5" cy="481.2" r="4.6" fill="#fff" fill-opacity="0.75" stroke="#ff1f1f" stroke-width="1.2"/>
<circle cx="436.6" cy="483.2" r="4.6" fill="#fff" fill-opacity="0.75" stroke="#ff1f1f" stroke-width="1.2"/>
<circle cx="436.6" cy="485.2" r="4.6" fill="#fff" fill-opacity="0.75" stroke="#ff1f1f" stroke-width="1.2"/>
<circle cx="436.7" cy="487.2" r="4.6" fill="#fff" fill-opacity="0.75" stroke="#ff1f1f" stroke-width="1.2"/>
<circle cx="436.7" cy="489.1" r="4.6" fill="#fff" fill-opacity="0.75" stroke="#ff1f1f" stroke-width="1.2"/>
<circle cx="436.7" cy="491.1" r="4.6" fill="#fff" fill-opacity="0.75" stroke="#ff1f1f" stroke-width="1.2"/>
<circle cx="436.8" cy="493.1" r="4.6" fill="#fff" fill-opacity="0.75" stroke="#ff1f1f" stroke-width="1.2"/>
<circle cx="436.8" cy="495.1" r="4.6" fill="#fff" fill-opacity="0.75" stroke="#ff1f1f" stroke-width="1.2"/>
<circle cx="436.8" cy="497.1" r="4.6" fill="#fff" fill-opacity="0.75" stroke="#ff1f1f" stroke-width="1.2"/>
<circle cx="436.9" cy="499.1" r="4.6" fill="#fff" fill-opacity="0.75" stroke="#ff1f1f" stroke-width="1.2"/>
<circle cx="436.9" cy="501.0" r="4.6" fill="#fff" fill-opacity="0.75" stroke="#ff1f1f" stroke-width="1.2"/>
<circle cx="437.0" cy="503.0" r="4.6" fill="#fff" fill-opacity="0.75" stroke="#ff1f1f" stroke-width="1.2"/>
<circle cx="437.0" cy="505.0" r="4.6" fill="#fff" fill-opacity="0.75" stroke="#ff1f1f" stroke-width="1.2"/>
<circle cx="446.0" cy="505.0" r="4.6" fill="#fff" fill-opacity="0.75" stroke="#ff1f1f" stroke-width="1.2"/>
<circle cx="446.0" cy="502.9" r="4.6" fill="#fff" fill-opacity="0.75" stroke="#ff1f1f" stroke-width="1.2"/>
<circle cx="446.1" cy="500.7" r="4.6" fill="#fff" fill-opacity="0.75" stroke="#ff1f1f" stroke-width="1.2"/>
<circle cx="446.1" cy="498.6" r="4.6" fill="#fff" fill-opacity="0.75" stroke="#ff1f1f" stroke-width="1.2"/>
<circle cx="446.1" cy="496.5" r="4.6" fill="#fff" fill-opacity="0.75" stroke="#ff1f1f" stroke-width="1.2"/>
<circle cx="446.2" cy="494.3" r="4.6" fill="#fff" fill-opacity="0.75" stroke="#ff1f1f" stroke-width="1.2"/>
<circle cx="446.2" cy="492.2" r="4.6" fill="#fff" fill-opacity="0.75" stroke="#ff1f1f" stroke-width="1.2"/>
<circle cx="446.3" cy="490.0" r="4.6" fill="#fff" fill-opacity="0.75" stroke="#ff1f1f" stroke-width="1.2"/>
<circle cx="446.3" cy="487.9" r="4.6" fill="#fff" fill-opacity="0.75" stroke="#ff1f1f" stroke-width="1.2"/>
<circle cx="446.3" cy="485.8" r="4.6" fill="#fff" fill-opacity="0.75" stroke="#ff1f1f" stroke-width="1.2"/>
<circle cx="446.4" cy="483.6" r="4.6" fill="#fff" fill-opacity="0.75" stroke="#ff1f1f" stroke-width="1.2"/>
<circle cx="446.4" cy="481.5" r="4.6" fill="#fff" fill-opacity="0.75" stroke="#ff1f1f" stroke-width="1.2"/>
<circle cx="446.5" cy="479.4" r="4.6" fill="#fff" fill-opacity="0.75" stroke="#ff1f1f" stroke-width="1.2"/>
<circle cx="446.5" cy="477.2" r="4.6" fill="#fff" fill-opacity="0.75" stroke="#ff1f1f" stroke-width="1.2"/>
<circle cx="446.5" cy="475.1" r="4.6" fill="#fff" fill-opacity="0.75" stroke="#ff1f1f" stroke-width="1.2"/>
<circle cx="446.6" cy="472.9" r="4.6" fill="#fff" fill-opacity="0.75" stroke="#ff1f1f" stroke-width="1.2"/>
<circle cx="446.6" cy="470.8" r="4.6" fill="#fff" fill-opacity="0.75" stroke="#ff1f1f" stroke-width="1.2"/>
<circle cx="446.7" cy="468.7" r="4.6" fill="#fff" fill-opacity="0.75" stroke="#ff1f1f" stroke-width="1.2"/>
<circle cx="446.8" cy="466.6" r="4.6" fill="#fff" fill-opacity="0.75" stroke="#ff1f1f" stroke-width="1.2"/>
<circle cx="446.9" cy="464.5" r="4.6" fill="#fff" fill-opacity="0.75" stroke="#ff1f1f" stroke-width="1.2"/>
<circle cx="447.0" cy="462.4" r="4.6" fill="#fff" fill-opacity="0.75" stroke="#ff1f1f" stroke-width="1.2"/>
<circle cx="447.1" cy="460.3" r="4.6" fill="#fff" fill-opacity="0.75" stroke="#ff1f1f" stroke-width="1.2"/>
<circle cx="447.2" cy="458.2" r="4.6" fill="#fff" fill-opacity="0.75" stroke="#ff1f1f" stroke-width="1.2"/>
<circle cx="447.4" cy="456.1" r="4.6" fill="#fff" fill-opacity="0.75" stroke="#ff1f1f" stroke-width="1.2"/>
<circle cx="447.5" cy="453.9" r="4.6" fill="#fff" fill-opacity="0.75" stroke="#ff1f1f" stroke-width="1.2"/>
<circle cx="447.7" cy="451.8" r="4.6" fill="#fff" fill-opacity="0.75" stroke="#ff1f1f" stroke-width="1.2"/>
<circle cx="447.8" cy="449.7" r="4.6" fill="#fff" fill-opacity="0.75" stroke="#ff1f1f" stroke-width="1.2"/>
<circle cx="448.0" cy="447.6" r="4.6" fill="#fff" fill-opacity="0.75" stroke="#ff1f1f" stroke-width="1.2"/>
<circle cx="448.2" cy="445.6" r="4.6" fill="#fff" fill-opacity="0.75" stroke="#ff1f1f" stroke-width="1.2"/>
<circle cx="448.4" cy="443.5" r="4.6" fill="#fff" fill-opacity="0.75" stroke="#ff1f1f" stroke-width="1.2"/>
<circle cx="448.6" cy="442.0" r="4.6" fill="#fff" fill-opacity="0.75" stroke="#ff1f1f" stroke-width="1.2"/>
<circle cx="448.8" cy="440.5" r="4.6" fill="#fff" fill-opacity="0.75" stroke="#ff1f1f" stroke-width="1.2"/>
<circle cx="449.0" cy="439.0" r="4.6" fill="#fff" fill-opacity="0.75" stroke="#ff1f1f" stroke-width="1.2"/>
<circle cx="449.3" cy="437.4" r="4.6" fill="#fff" fill-opacity="0.75" stroke="#ff1f1f" stroke-width="1.2"/>
<circle cx="449.6" cy="435.9" r="4.6" fill="#fff" fill-opacity="0.75" stroke="#ff1f1f" stroke-width="1.2"/>
<circle cx="450.2" cy="433.9" r="4.6" fill="#fff" fill-opacity="0.75" stroke="#ff1f1f" stroke-width="1.2"/>
<circle cx="450.8" cy="433.1" r="4.6" fill="#fff" fill-opacity="0.75" stroke="#ff1f1f" stroke-width="1.2"/>
<circle cx="451.4" cy="433.0" r="4.6" fill="#fff" fill-opacity="0.75" stroke="#ff1f1f" stroke-width="1.2"/>
<circle cx="452.0" cy="433.3" r="4.6" fill="#fff" fill-opacity="0.75" stroke="#ff1f1f" stroke-width="1.2"/>
<circle cx="452.6" cy="433.8" r="4.6" fill="#fff" fill-opacity="0.75" stroke="#ff1f1f" stroke-width="1.2"/>
<circle cx="453.2" cy="434.5" r="4.6" fill="#fff" fill-opacity="0.75" stroke="#ff1f1f" stroke-width="1.2"/>
<circle cx="453.8" cy="435.4" r="4.6" fill="#fff" fill-opacity="0.75" stroke="#ff1f1f" stroke-width="1.2"/>
<circle cx="454.4" cy="436.5" r="4.6" fill="#fff" fill-opacity="0.75" stroke="#ff1f1f" stroke-width="1.2"/>
<circle cx="455.0" cy="437.9" r="4.6" fill="#fff" fill-opacity="0.75" stroke="#ff1f1f" stroke-width="1.2"/>
<circle cx="455.6" cy="439.6" r="4.6" fill="#fff" fill-opacity="0.75" stroke="#ff1f1f" stroke-width="1.2"/>
<circle cx="456.2" cy="441.6" r="4.6" fill="#fff" fill-opacity="0.75" stroke="#ff1f1f" stroke-width="1.2"/>
<circle cx="456.5" cy="442.7" r="4.6" fill="#fff" fill-opacity="0.75" stroke="#ff1f1f" stroke-width="1.2"/>
<circle cx="456.8" cy="443.8" r="4.6" fill="#fff" fill-opacity="0.75" stroke="#ff1f1f" stroke-width="1.2"/>
<circle cx="457.1" cy="445.1" r="4.6" fill="#fff" fill-opacity="0.75" stroke="#ff1f1f" stroke-width="1.2"/>
<circle cx="457.4" cy="446.4" r="4.6" fill="#fff" fill-opacity="0.75" stroke="#ff1f1f" stroke-width="1.2"/>
<circle cx="457.7" cy="448.0" r="4.6" fill="#fff" fill-opacity="0.75" stroke="#ff1f1f" stroke-width="1.2"/>
<circle cx="458.0" cy="449.5" r="4.6" fill="#fff" fill-opacity="0.75" stroke="#ff1f1f" stroke-width="1.2"/>
<circle cx="458.3" cy="451.2" r="4.6" fill="#fff" fill-opacity="0.75" stroke="#ff1f1f" stroke-width="1.2"/>
<circle cx="458.6" cy="452.9" r="4.6" fill="#fff" fill-opacity="0.75" stroke="#ff1f1f" stroke-width="1.2"/>
<circle cx="458.9" cy="455.0" r="4.6" fill="#fff" fill-opacity="0.75" stroke="#ff1f1f" stroke-width="1.2"/>
<circle cx="459.2" cy="457.0" r="4.6" fill="#fff" fill-opacity="0.75" stroke="#ff1f1f" stroke-width="1.2"/>
<circle cx="459.4" cy="458.6" r="4.6" fill="#fff" fill-opacity="0.75" stroke="#ff1f1f" stroke-width="1.2"/>
<circle cx="459.6" cy="460.2" r="4.6" fill="#fff" fill-opacity="0.75" stroke="#ff1f1f" stroke-width="1.2"/>
<circle cx="459.8" cy="461.8" r="4.6" fill="#fff" fill-opacity="0.75" stroke="#ff1f1f" stroke-width="1.2"/>
<circle cx="460.0" cy="463.7" r="4.6" fill="#fff" fill-opacity="0.75" stroke="#ff1f1f" stroke-width="1.2"/>
<circle cx="460.2" cy="465.7" r="4.6" fill="#fff" fill-opacity="0.75" stroke="#ff1f1f" stroke-width="1.2"/>
<circle cx="460.4" cy="467.6" r="4.6" fill="#fff" fill-opacity="0.75" stroke="#ff1f1f" stroke-width="1.2"/>
<circle cx="460.6" cy="469.5" r="4.6" fill="#fff" fill-opacity="0.75" stroke="#ff1f1f" stroke-width="1.2"/>
<circle cx="460.7" cy="471.3" r="4.6" fill="#fff" fill-opacity="0.75" stroke="#ff1f1f" stroke-width="1.2"/>
<circle cx="460.9" cy="473.2" r="4.6" fill="#fff" fill-opacity="0.75" stroke="#ff1f1f" stroke-width="1.2"/>
<circle cx="461.0" cy="475.0" r="4.6" fill="#fff" fill-opacity="0.75" stroke="#ff1f1f" stroke-width="1.2"/>
<circle cx="461.1" cy="477.2" r="4.6" fill="#fff" fill-opacity="0.75" stroke="#ff1f1f" stroke-width="1.2"/>
<circle cx="461.2" cy="479.3" r="4.6" fill="#fff" fill-opacity="0.75" stroke="#ff1f1f" stroke-width="1.2"/>
<circle cx="461.4" cy="481.5" r="4.6" fill="#fff" fill-opacity="0.75" stroke="#ff1f1f" stroke-width="1.2"/>
<circle cx="461.5" cy="483.6" r="4.6" fill="#fff" fill-opacity="0.75" stroke="#ff1f1f" stroke-width="1.2"/>
<circle cx="461.6" cy="485.8" r="4.6" fill="#fff" fill-opacity="0.75" stroke="#ff1f1f" stroke-width="1.2"/>
<polygon points="446.0,500.1 450.7,503.5 448.9,509.0 443.1,509.0 441.3,503.5" fill="#fff" fill-opacity="0.55" stroke="#ff1f1f" stroke-width="1.5"/>
<polygon points="446.2,493.7 450.9,497.1 449.1,502.6 443.4,502.6 441.6,497.1" fill="#fff" fill-opacity="0.55" stroke="#ff1f1f" stroke-width="1.5"/>
<polygon points="446.5,487.3 451.2,490.7 449.4,496.1 443.6,496.1 441.8,490.7" fill="#fff" fill-opacity="0.55" stroke="#ff1f1f" stroke-width="1.5"/>
<polygon points="446.8,480.9 451.4,484.3 449.6,489.7 443.9,489.7 442.1,484.3" fill="#fff" fill-opacity="0.55" stroke="#ff1f1f" stroke-width="1.5"/>
<polygon points="447.0,474.5 451.7,477.8 449.9,483.3 444.1,483.3 442.3,477.8" fill="#fff" fill-opacity="0.55" stroke="#ff1f1f" stroke-width="1.5"/>
<polygon points="447.2,468.1 451.9,471.4 450.1,476.9 444.4,476.9 442.6,471.4" fill="#fff" fill-opacity="0.55" stroke="#ff1f1f" stroke-width="1.5"/>
<polygon points="447.5,461.6 452.2,465.0 450.4,470.5 444.6,470.5 442.8,465.0" fill="#fff" fill-opacity="0.55" stroke="#ff1f1f" stroke-width="1.5"/>
<polygon points="447.8,455.2 452.4,458.6 450.6,464.1 444.9,464.1 443.1,458.6" fill="#fff" fill-opacity="0.55" stroke="#ff1f1f" stroke-width="1.5"/>
<polygon points="448.0,448.8 452.7,452.2 450.9,457.7 445.1,457.7 443.3,452.2" fill="#fff" fill-opacity="0.55" stroke="#ff1f1f" stroke-width="1.5"/>
<polygon points="448.2,442.4 452.9,445.8 451.1,451.3 445.4,451.3 443.6,445.8" fill="#fff" fill-opacity="0.55" stroke="#ff1f1f" stroke-width="1.5"/>
<polygon points="448.5,436.0 453.2,439.4 451.4,444.9 445.6,444.9 443.8,439.4" fill="#fff" fill-opacity="0.55" stroke="#ff1f1f" stroke-width="1.5"/>
<polygon points="449.3,441.2 454.0,444.6 452.2,450.1 446.5,450.1 444.7,444.6" fill="#fff" fill-opacity="0.55" stroke="#ff1f1f" stroke-width="1.5"/>
<polygon points="450.2,446.4 454.8,449.8 453.0,455.3 447.3,455.3 445.5,449.8" fill="#fff" fill-opacity="0.55" stroke="#ff1f1f" stroke-width="1.5"/>
<polygon points="451.0,451.7 455.7,455.0 453.9,460.5 448.1,460.5 446.3,455.0" fill="#fff" fill-opacity="0.55" stroke="#ff1f1f" stroke-width="1.5"/>
<circle cx="457.0" cy="505.0" r="4.4" fill="#fff" fill-opacity="0.75" stroke="#ff1f1f" stroke-width="1.5"/>
<circle cx="457.1" cy="502.2" r="4.4" fill="#fff" fill-opacity="0.75" stroke="#ff1f1f" stroke-width="1.5"/>
<circle cx="457.1" cy="499.5" r="4.4" fill="#fff" fill-opacity="0.75" stroke="#ff1f1f" stroke-width="1.5"/>
<circle cx="457.2" cy="496.7" r="4.4" fill="#fff" fill-opacity="0.75" stroke="#ff1f1f" stroke-width="1.5"/>
<circle cx="457.3" cy="494.0" r="4.4" fill="#fff" fill-opacity="0.75" stroke="#ff1f1f" stroke-width="1.5"/>
<circle cx="457.3" cy="491.2" r="4.4" fill="#fff" fill-opacity="0.75" stroke="#ff1f1f" stroke-width="1.5"/>
<circle cx="457.4" cy="488.5" r="4.4" fill="#fff" fill-opacity="0.75" stroke="#ff1f1f" stroke-width="1.5"/>
<circle cx="457.5" cy="485.7" r="4.4" fill="#fff" fill-opacity="0.75" stroke="#ff1f1f" stroke-width="1.5"/>
<circle cx="457.5" cy="483.0" r="4.4" fill="#fff" fill-opacity="0.75" stroke="#ff1f1f" stroke-width="1.5"/>
<circle cx="457.6" cy="480.2" r="4.4" fill="#fff" fill-opacity="0.75" stroke="#ff1f1f" stroke-width="1.5"/>
<circle cx="457.7" cy="477.5" r="4.4" fill="#fff" fill-opacity="0.75" stroke="#ff1f1f" stroke-width="1.5"/>
<circle cx="457.7" cy="474.7" r="4.4" fill="#fff" fill-opacity="0.75" stroke="#ff1f1f" stroke-width="1.5"/>
<circle cx="457.8" cy="472.0" r="4.4" fill="#fff" fill-opacity="0.75" stroke="#ff1f1f" stroke-width="1.5"/>
<circle cx="458.0" cy="469.2" r="4.4" fill="#fff" fill-opacity="0.75" stroke="#ff1f1f" stroke-width="1.5"/>
<circle cx="458.2" cy="466.5" r="4.4" fill="#fff" fill-opacity="0.75" stroke="#ff1f1f" stroke-width="1.5"/>
<circle cx="458.4" cy="463.7" r="4.4" fill="#fff" fill-opacity="0.75" stroke="#ff1f1f" stroke-width="1.5"/>
<circle cx="458.6" cy="461.0" r="4.4" fill="#fff" fill-opacity="0.75" stroke="#ff1f1f" stroke-width="1.5"/>
<circle cx="458.9" cy="458.9" r="4.4" fill="#fff" fill-opacity="0.75" stroke="#ff1f1f" stroke-width="1.5"/>
<circle cx="459.1" cy="456.7" r="4.4" fill="#fff" fill-opacity="0.75" stroke="#ff1f1f" stroke-width="1.5"/>
<circle cx="459.4" cy="454.6" r="4.4" fill="#fff" fill-opacity="0.75" stroke="#ff1f1f" stroke-width="1.5"/>
<circle cx="459.8" cy="452.9" r="4.4" fill="#fff" fill-opacity="0.75" stroke="#ff1f1f" stroke-width="1.5"/>
<circle cx="460.2" cy="451.1" r="4.4" fill="#fff" fill-opacity="0.75" stroke="#ff1f1f" stroke-width="1.5"/>
<circle cx="461.0" cy="450.0" r="4.4" fill="#fff" fill-opacity="0.75" stroke="#ff1f1f" stroke-width="1.5"/>
<circle cx="461.8" cy="450.4" r="4.4" fill="#fff" fill-opacity="0.75" stroke="#ff1f1f" stroke-width="1.5"/>
<circle cx="462.6" cy="451.5" r="4.4" fill="#fff" fill-opacity="0.75" stroke="#ff1f1f" stroke-width="1.5"/>
<circle cx="463.4" cy="453.3" r="4.4" fill="#fff" fill-opacity="0.75" stroke="#ff1f1f" stroke-width="1.5"/>
<circle cx="464.2" cy="456.1" r="4.4" fill="#fff" fill-opacity="0.75" stroke="#ff1f1f" stroke-width="1.5"/>
<circle cx="464.6" cy="458.0" r="4.4" fill="#fff" fill-opacity="0.75" stroke="#ff1f1f" stroke-width="1.5"/>
<circle cx="465.0" cy="459.9" r="4.4" fill="#fff" fill-opacity="0.75" stroke="#ff1f1f" stroke-width="1.5"/>
<circle cx="465.4" cy="462.4" r="4.4" fill="#fff" fill-opacity="0.75" stroke="#ff1f1f" stroke-width="1.5"/>
<circle cx="465.8" cy="465.0" r="4.4" fill="#fff" fill-opacity="0.75" stroke="#ff1f1f" stroke-width="1.5"/>
<circle cx="466.1" cy="467.3" r="4.4" fill="#fff" fill-opacity="0.75" stroke="#ff1f1f" stroke-width="1.5"/>
<circle cx="466.3" cy="469.7" r="4.4" fill="#fff" fill-opacity="0.75" stroke="#ff1f1f" stroke-width="1.5"/>
<circle cx="466.6" cy="472.0" r="4.4" fill="#fff" fill-opacity="0.75" stroke="#ff1f1f" stroke-width="1.5"/>
<circle cx="466.8" cy="474.7" r="4.4" fill="#fff" fill-opacity="0.75" stroke="#ff1f1f" stroke-width="1.5"/>
<circle cx="467.0" cy="477.4" r="4.4" fill="#fff" fill-opacity="0.75" stroke="#ff1f1f" stroke-width="1.5"/>
<circle cx="467.2" cy="480.0" r="4.4" fill="#fff" fill-opacity="0.75" stroke="#ff1f1f" stroke-width="1.5"/>
<circle cx="467.4" cy="482.7" r="4.4" fill="#fff" fill-opacity="0.75" stroke="#ff1f1f" stroke-width="1.5"/>
<circle cx="481.0" cy="403.0" r="5.0" fill="#fff" stroke="#ff1f1f" stroke-width="1.5"/>
<circle cx="478.0" cy="415.0" r="5.0" fill="#fff" stroke="#ff1f1f" stroke-width="1.5"/>
<circle cx="477.0" cy="428.0" r="5.0" fill="#fff" stroke="#ff1f1f" stroke-width="1.5"/>
<circle cx="477.5" cy="440.0" r="5.0" fill="#fff" stroke="#ff1f1f" stroke-width="1.5"/>
<circle cx="479.0" cy="452.0" r="5.0" fill="#fff" stroke="#ff1f1f" stroke-width="1.5"/>
<circle cx="480.0" cy="465.0" r="5.0" fill="#fff" stroke="#ff1f1f" stroke-width="1.5"/>
<circle cx="480.0" cy="478.0" r="5.0" fill="#fff" stroke="#ff1f1f" stroke-width="1.5"/>
<circle cx="480.0" cy="490.0" r="5.0" fill="#fff" stroke="#ff1f1f" stroke-width="1.5"/>
<circle cx="480.0" cy="497.5" r="5.0" fill="#fff" stroke="#ff1f1f" stroke-width="1.5"/>
<circle cx="480.0" cy="505.0" r="5.0" fill="#fff" stroke="#ff1f1f" stroke-width="1.5"/>
<circle cx="418.5" cy="339.4" r="5.0" fill="url(#gr)"/>
<circle cx="421.7" cy="332.0" r="5.0" fill="url(#gr)"/>
<circle cx="425.8" cy="326.5" r="5.0" fill="url(#gr)"/>
<circle cx="430.0" cy="325.0" r="5.0" fill="url(#gr)"/>
<circle cx="432.7" cy="324.0" r="5.0" fill="url(#gr)"/>
<circle cx="435.9" cy="323.9" r="5.0" fill="url(#gr)"/>
<circle cx="439.2" cy="323.8" r="5.0" fill="url(#gr)"/>
<circle cx="443.0" cy="325.2" r="5.0" fill="url(#gr)"/>
<circle cx="446.9" cy="326.6" r="5.0" fill="url(#gr)"/>
<circle cx="449.5" cy="328.9" r="5.0" fill="url(#gr)"/>
<circle cx="452.0" cy="331.2" r="5.0" fill="url(#gr)"/>
<circle cx="454.6" cy="333.5" r="5.0" fill="url(#gr)"/>
<circle cx="458.1" cy="338.1" r="5.0" fill="url(#gr)"/>
<circle cx="460.2" cy="342.3" r="5.0" fill="url(#gr)"/>
<circle cx="462.3" cy="346.4" r="5.0" fill="url(#gr)"/>
<circle cx="464.4" cy="350.6" r="5.0" fill="url(#gr)"/>
<circle cx="466.5" cy="354.8" r="5.0" fill="url(#gr)"/>
<circle cx="468.5" cy="358.9" r="5.0" fill="url(#gr)"/>
<circle cx="470.6" cy="363.1" r="5.0" fill="url(#gr)"/>
<circle cx="473.0" cy="368.6" r="5.0" fill="url(#gr)"/>
<circle cx="475.3" cy="374.1" r="5.0" fill="url(#gr)"/>
<circle cx="477.6" cy="379.6" r="5.0" fill="url(#gr)"/>
<circle cx="480.0" cy="385.0" r="5.0" fill="url(#gr)"/>
<circle cx="481.9" cy="389.7" r="5.0" fill="url(#gr)"/>
<circle cx="483.9" cy="394.4" r="5.0" fill="url(#gr)"/>
<circle cx="486.3" cy="402.2" r="5.0" fill="url(#gr)"/>
<circle cx="489.5" cy="412.0" r="5.3" fill="url(#gr)"/>
<circle cx="492.0" cy="425.0" r="5.3" fill="url(#gr)"/>
<circle cx="492.8" cy="434.0" r="5.3" fill="url(#gr)"/>
<circle cx="493.5" cy="443.0" r="5.3" fill="url(#gr)"/>
<circle cx="494.0" cy="451.5" r="5.3" fill="url(#gr)"/>
<circle cx="494.5" cy="460.0" r="5.3" fill="url(#gr)"/>
<circle cx="494.8" cy="470.0" r="5.3" fill="url(#gr)"/>
<circle cx="495.0" cy="480.0" r="5.3" fill="url(#gr)"/>
<circle cx="495.0" cy="488.3" r="5.3" fill="url(#gr)"/>
<circle cx="495.0" cy="496.7" r="5.3" fill="url(#gr)"/>
<circle cx="495.0" cy="505.0" r="5.3" fill="url(#gr)"/>
<circle cx="424.5" cy="333.0" r="5.0" fill="url(#gr)"/>
<circle cx="428.0" cy="329.0" r="5.0" fill="url(#gr)"/>
<circle cx="433.0" cy="327.0" r="5.0" fill="url(#gr)"/>
<circle cx="436.0" cy="327.0" r="5.0" fill="url(#gr)"/>
<circle cx="439.0" cy="327.0" r="5.0" fill="url(#gr)"/>
<circle cx="442.5" cy="328.2" r="5.0" fill="url(#gr)"/>
<circle cx="446.0" cy="329.5" r="5.0" fill="url(#gr)"/>
<circle cx="494.0" cy="399.0" r="5.0" fill="url(#gr)"/>
<circle cx="495.6" cy="408.4" r="5.0" fill="url(#gr)"/>
<circle cx="486.3" cy="411.6" r="5.0" fill="url(#gr)"/>
<circle cx="488.6" cy="417.8" r="5.0" fill="url(#gr)"/>
<circle cx="498.0" cy="470.0" r="5.0" fill="url(#gr)"/>
<circle cx="498.0" cy="482.0" r="5.0" fill="url(#gr)"/>
<circle cx="497.5" cy="494.0" r="5.0" fill="url(#gr)"/>
<circle cx="491.0" cy="497.0" r="5.0" fill="url(#gr)"/>
<circle cx="416.6" cy="350.4" r="4.8" fill="url(#gr)"/>
<circle cx="413.4" cy="363.3" r="4.8" fill="url(#gr)"/>
<circle cx="411.2" cy="383.6" r="4.8" fill="url(#gr)"/>
<circle cx="408.7" cy="405.8" r="4.8" fill="url(#gr)"/>
<circle cx="405.3" cy="433.8" r="4.8" fill="url(#gr)"/>
<circle cx="406.8" cy="465.6" r="4.8" fill="url(#gr)"/>
<circle cx="404.2" cy="496.6" r="4.8" fill="url(#gr)"/>
<circle cx="429.0" cy="346.7" r="4.8" fill="url(#gr)"/>
<circle cx="432.7" cy="344.4" r="4.8" fill="url(#gr)"/>
<circle cx="447.9" cy="436.1" r="4.8" fill="url(#gr)"/>
<circle cx="444.0" cy="439.0" r="4.8" fill="url(#gr)"/>
<polygon points="502.8,500.0 504.3,460.7 508.8,442.6 519.4,442.6 520.2,458.4 530.7,458.4 533.0,454.7 543.5,454.7 544.3,458.4 551.8,458.4 556.3,465.2 560.9,474.3 563.1,483.3 563.9,500.0" fill="#c9c9c9" />
<rect x="509.0" y="442.0" width="7" height="7" fill="#e2e2e2" stroke="#c0c0c0" stroke-width="0.9"/>
<rect x="512.5" y="442.0" width="7" height="7" fill="#e2e2e2" stroke="#c0c0c0" stroke-width="0.9"/>
<rect x="509.0" y="445.5" width="7" height="7" fill="#e2e2e2" stroke="#c0c0c0" stroke-width="0.9"/>
<rect x="512.5" y="445.5" width="7" height="7" fill="#e2e2e2" stroke="#c0c0c0" stroke-width="0.9"/>
<rect x="509.0" y="449.0" width="7" height="7" fill="#e2e2e2" stroke="#c0c0c0" stroke-width="0.9"/>
<rect x="512.5" y="449.0" width="7" height="7" fill="#e2e2e2" stroke="#c0c0c0" stroke-width="0.9"/>
<rect x="533.0" y="455.0" width="7" height="7" fill="#e2e2e2" stroke="#c0c0c0" stroke-width="0.9"/>
<rect x="536.5" y="455.0" width="7" height="7" fill="#e2e2e2" stroke="#c0c0c0" stroke-width="0.9"/>
<rect x="533.0" y="458.5" width="7" height="7" fill="#e2e2e2" stroke="#c0c0c0" stroke-width="0.9"/>
<rect x="536.5" y="458.5" width="7" height="7" fill="#e2e2e2" stroke="#c0c0c0" stroke-width="0.9"/>
<rect x="543.5" y="458.5" width="7" height="7" fill="#e2e2e2" stroke="#c0c0c0" stroke-width="0.9"/>
<rect x="520.5" y="458.5" width="7" height="7" fill="#e2e2e2" stroke="#c0c0c0" stroke-width="0.9"/>
<rect x="524.0" y="458.5" width="7" height="7" fill="#e2e2e2" stroke="#c0c0c0" stroke-width="0.9"/>
<rect x="520.5" y="462.5" width="7" height="7" fill="#e2e2e2" stroke="#c0c0c0" stroke-width="0.9"/>
<rect x="504.5" y="461.5" width="7" height="7" fill="#e2e2e2" stroke="#c0c0c0" stroke-width="0.9"/>
<rect x="504.5" y="466.5" width="7" height="7" fill="#e2e2e2" stroke="#c0c0c0" stroke-width="0.9"/>
<polygon points="576.2,500.0 576.2,488.3 577.2,482.5 579.1,481.1 580.0,478.0 581.0,473.9 582.4,466.3 584.8,460.5 587.7,458.4 597.8,458.4 600.6,461.5 603.0,469.1 604.9,478.7 606.2,488.3 606.6,500.0 595.6,500.0 595.4,483.5 594.4,477.8 593.0,475.4 591.5,477.8 590.6,483.5 590.1,500.0" fill="#7e1a8e" stroke="#9448a6" stroke-width="1.8" stroke-dasharray="1 1.2"/>
<polygon points="618.7,500.0 619.3,482.1 621.1,469.9 623.5,459.0 626.5,449.3 630.8,443.3 635.0,442.1 643.5,442.1 648.4,445.7 653.2,454.2 657.5,466.3 660.5,478.4 662.3,490.5 662.7,500.0 646.5,500.0 647.2,489.3 647.8,478.4 646.5,468.7 642.9,459.0 639.3,454.2 635.6,461.5 633.5,467.5 637.0,467.5 640.5,468.5 641.1,472.4 639.3,478.4 637.5,486.9 636.8,500.0" fill="#7e1a8e" stroke="#9448a6" stroke-width="1.8" stroke-dasharray="1 1.2"/>
</g>
<rect x="384.00" y="288.70" width="299.00" height="211.30" fill="none" stroke="#000" stroke-width="1.7"/>
<text x="384.00" y="517.90" font-size="16" text-anchor="middle" fill="#000" color="#000" >0</text>
<text x="431.94" y="517.90" font-size="16" text-anchor="middle" fill="#000" color="#000" >2</text>
<text x="479.88" y="517.90" font-size="16" text-anchor="middle" fill="#000" color="#000" >4</text>
<text x="527.82" y="517.90" font-size="16" text-anchor="middle" fill="#000" color="#000" >6</text>
<line x1="575.76" y1="500.00" x2="575.76" y2="495.80" stroke="#000" stroke-width="1.6"/>
<text x="575.76" y="517.90" font-size="16" text-anchor="middle" fill="#000" color="#000" >8</text>
<text x="623.70" y="517.90" font-size="16" text-anchor="middle" fill="#000" color="#000" >10</text>
<line x1="671.64" y1="500.00" x2="671.64" y2="495.80" stroke="#000" stroke-width="1.6"/>
<text x="671.64" y="517.90" font-size="16" text-anchor="middle" fill="#000" color="#000" >12</text>
<line x1="384.00" y1="500.00" x2="388.20" y2="500.00" stroke="#000" stroke-width="1.6"/>
<text x="379.30" y="505.50" font-size="16" text-anchor="end" fill="#000" color="#000" >0</text>
<line x1="384.00" y1="480.77" x2="386.40" y2="480.77" stroke="#000" stroke-width="1.6"/>
<line x1="384.00" y1="461.54" x2="388.20" y2="461.54" stroke="#000" stroke-width="1.6"/>
<text x="379.30" y="467.04" font-size="16" text-anchor="end" fill="#000" color="#000" >1</text>
<line x1="384.00" y1="442.31" x2="386.40" y2="442.31" stroke="#000" stroke-width="1.6"/>
<line x1="384.00" y1="423.08" x2="388.20" y2="423.08" stroke="#000" stroke-width="1.6"/>
<text x="379.30" y="428.58" font-size="16" text-anchor="end" fill="#000" color="#000" >2</text>
<line x1="384.00" y1="403.85" x2="386.40" y2="403.85" stroke="#000" stroke-width="1.6"/>
<line x1="384.00" y1="384.62" x2="388.20" y2="384.62" stroke="#000" stroke-width="1.6"/>
<text x="379.30" y="390.12" font-size="16" text-anchor="end" fill="#000" color="#000" >3</text>
<line x1="384.00" y1="365.39" x2="386.40" y2="365.39" stroke="#000" stroke-width="1.6"/>
<line x1="384.00" y1="346.16" x2="388.20" y2="346.16" stroke="#000" stroke-width="1.6"/>
<text x="379.30" y="351.66" font-size="16" text-anchor="end" fill="#000" color="#000" >4</text>
<line x1="384.00" y1="326.93" x2="386.40" y2="326.93" stroke="#000" stroke-width="1.6"/>
<line x1="384.00" y1="307.70" x2="388.20" y2="307.70" stroke="#000" stroke-width="1.6"/>
<text x="379.30" y="313.20" font-size="16" text-anchor="end" fill="#000" color="#000" >5</text>
<text x="534.40" y="538.80" font-size="18.2" text-anchor="middle" fill="#000" color="#000" >Frequency (THz)</text>
<text transform="translate(362.6,393.4) rotate(-90)" font-size="16.1" text-anchor="middle" fill="#000">Group velocity (Km s<tspan font-size="10.5" dy="-6.3">-1</tspan><tspan dy="6.3">)</tspan></text>
<text x="340.80" y="295.10" font-size="19.2" text-anchor="start" fill="#000" color="#000" >(d)</text>
<rect x="491.3" y="292.5" width="188" height="21.3" fill="#d6e9e7" stroke="#6aaba8" stroke-width="1"/>
<circle cx="502.6" cy="304.0" r="4.4" fill="#eef6f6" stroke="#4a9794" stroke-width="1.3"/>
<text x="520.80" y="309.80" font-size="16" text-anchor="start" fill="#000" color="#000" >TA<tspan font-size="11" dy="3.5">1</tspan></text>
<polygon points="569.0,298.8 573.9,302.4 572.1,308.2 565.9,308.2 564.1,302.4" fill="#eef6f6" stroke="#4a9794" stroke-width="1.3"/>
<text x="587.80" y="309.80" font-size="16" text-anchor="start" fill="#000" color="#000" >TA<tspan font-size="11" dy="3.5">2</tspan></text>
<circle cx="635.3" cy="304.0" r="4.8" fill="url(#gt)"/>
<text x="658.30" y="309.80" font-size="16" text-anchor="start" fill="#000" color="#000" >LA</text>
<text x="492.60" y="327.90" font-size="16" text-anchor="start" fill="#3e8f8b" color="#3e8f8b" >Bunched-acoustic (CoSe<tspan font-size="11.5" dy="3.5">6</tspan><tspan dy="-3.5">)</tspan></text>
<rect x="491.3" y="342.1" width="188" height="21" fill="#f5caca" stroke="#ee6060" stroke-width="1"/>
<circle cx="502.9" cy="353.3" r="4.4" fill="#fde8e8" stroke="#ff1f1f" stroke-width="1.3"/>
<text x="520.20" y="359.00" font-size="16" text-anchor="start" fill="#000" color="#000" >TO<tspan font-size="11" dy="3.5">1</tspan></text>
<polygon points="570.4,348.1 575.3,351.7 573.5,357.5 567.3,357.5 565.5,351.7" fill="#fde8e8" stroke="#ff1f1f" stroke-width="1.3"/>
<text x="588.70" y="359.00" font-size="16" text-anchor="start" fill="#000" color="#000" >TO<tspan font-size="11" dy="3.5">2</tspan></text>
<circle cx="639.0" cy="353.3" r="4.8" fill="url(#gr)"/>
<text x="657.20" y="359.00" font-size="16" text-anchor="start" fill="#000" color="#000" >LO</text>
<text x="510.80" y="377.20" font-size="16" text-anchor="start" fill="#f01818" color="#f01818" >Bunched-optical (Na)</text>
<rect x="512" y="391.5" width="9" height="9" fill="#fff" stroke="#d8d8d8" stroke-width="1"/>
<text x="534.40" y="403.00" font-size="16" text-anchor="start" fill="#000" color="#000" >ME-O</text>
<rect x="585.8" y="387.2" width="73.5" height="21.1" fill="#dcc9e4" stroke="#9c5cae" stroke-width="1"/>
<g stroke="#7e1a8e" stroke-width="1.4"><line x1="596.6" y1="392.5" x2="596.6" y2="402.5"/><line x1="592.3" y1="395" x2="600.9" y2="400"/><line x1="592.3" y1="400" x2="600.9" y2="395"/></g>
<text x="615.80" y="403.00" font-size="16" text-anchor="start" fill="#000" color="#000" >HE-O</text>
<text x="571.60" y="423.30" font-size="16" text-anchor="start" fill="#80209a" color="#80209a" >Flat-optical (O)</text>
</svg></body></html>
